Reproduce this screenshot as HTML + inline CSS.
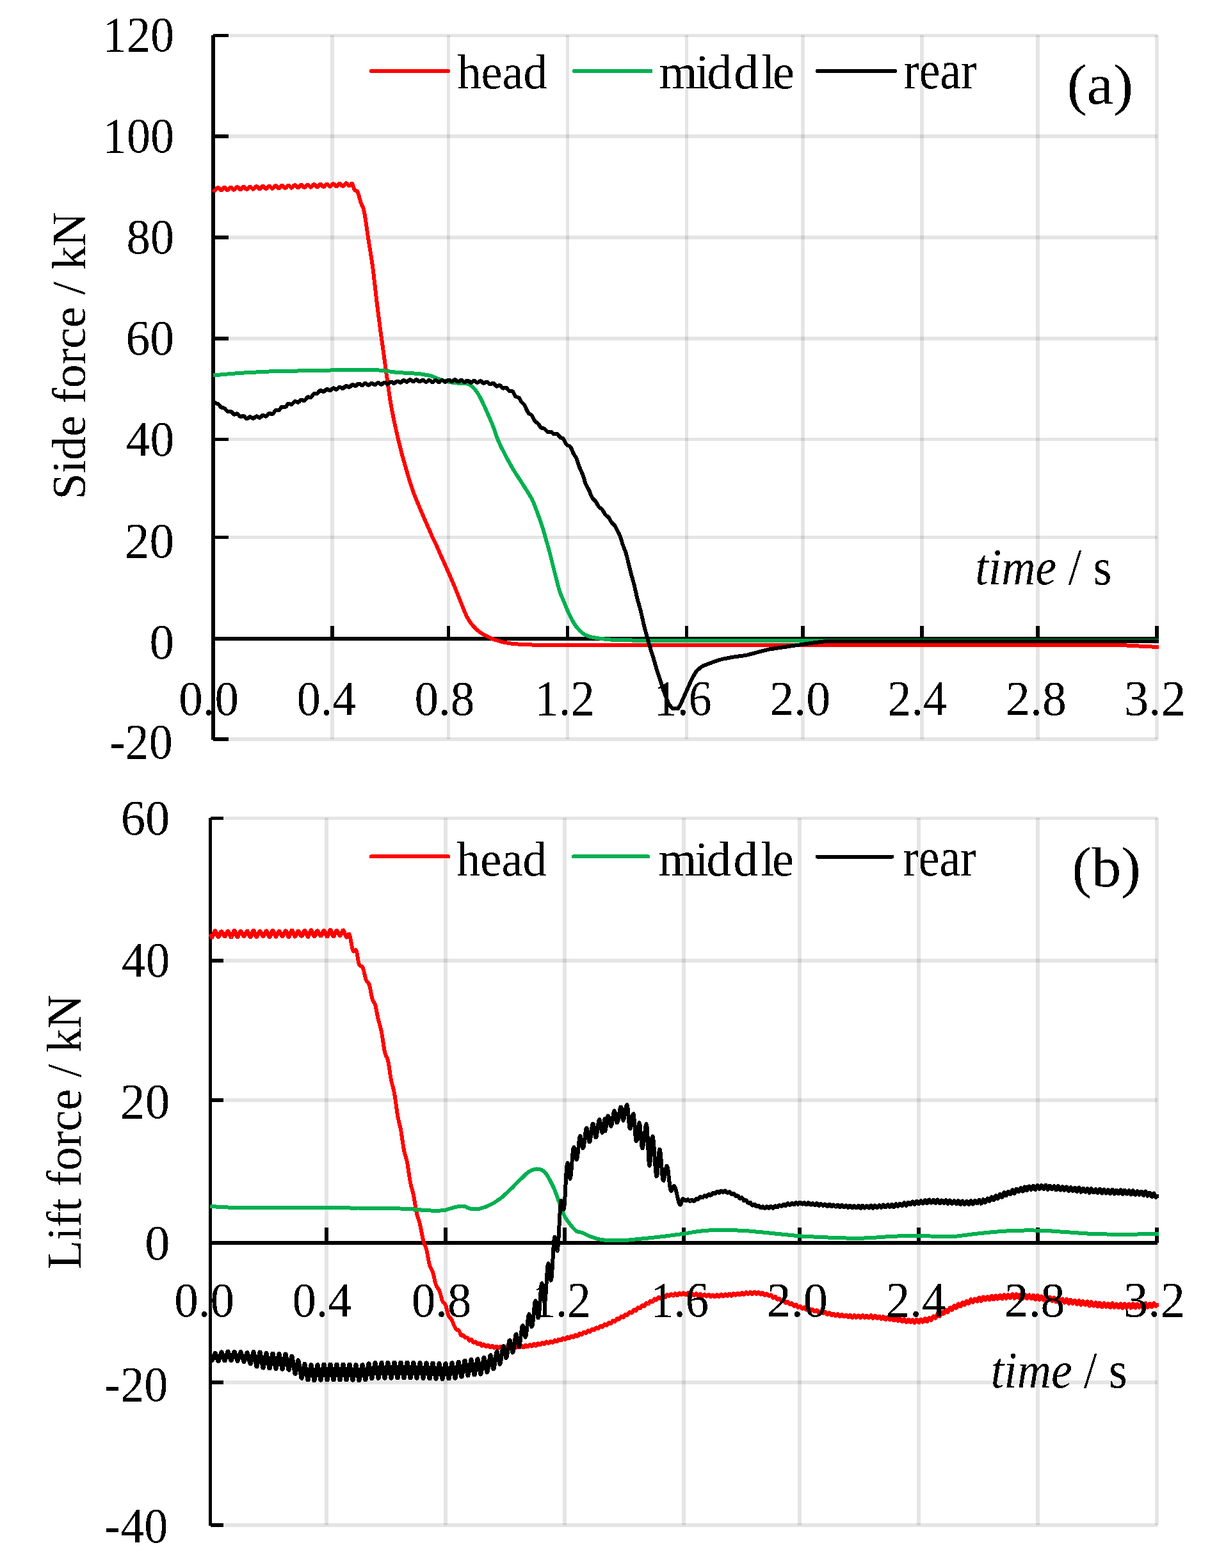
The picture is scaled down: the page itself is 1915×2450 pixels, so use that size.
<!DOCTYPE html>
<html lang="en">
<head>
<meta charset="utf-8">
<title>Side force and lift force time histories</title>
<style>
html,body{margin:0;padding:0;background:#fff;}
body{width:1915px;height:2450px;overflow:hidden;}
svg{display:block;position:absolute;left:0;top:0;}
text{font-family:"Liberation Serif","DejaVu Serif",serif;font-size:100px;fill:#000;white-space:pre;}
rect,path{shape-rendering:crispEdges;}
</style>
</head>
<body>
<svg width="1915" height="2450" viewBox="0 0 1915 2450">
<defs>
<filter id="crisp" filterUnits="userSpaceOnUse" x="0" y="0" width="1915" height="2450" color-interpolation-filters="sRGB">
<feComponentTransfer><feFuncA type="discrete" tableValues="0 1"/></feComponentTransfer>
</filter>
</defs>
<rect x="0" y="0" width="1915" height="2450" fill="#fff"/>
<g class="chart">
<g class="grid">
<rect x="333" y="52.8" width="1475" height="5.5" fill="#e5e5e5"/>
<rect x="333" y="210.2" width="1475" height="5.5" fill="#e5e5e5"/>
<rect x="333" y="368.2" width="1475" height="5.5" fill="#e5e5e5"/>
<rect x="333" y="526.2" width="1475" height="5.5" fill="#e5e5e5"/>
<rect x="333" y="683.8" width="1475" height="5.5" fill="#e5e5e5"/>
<rect x="333" y="836.8" width="1475" height="5.5" fill="#e5e5e5"/>
<rect x="333" y="1152.2" width="1475" height="5.5" fill="#e5e5e5"/>
<rect x="516" y="55" width="6" height="1100" fill="#e5e5e5"/>
<rect x="698" y="55" width="5" height="1100" fill="#e5e5e5"/>
<rect x="884" y="55" width="5" height="1100" fill="#e5e5e5"/>
<rect x="1070" y="55" width="5" height="1100" fill="#e5e5e5"/>
<rect x="1251" y="55" width="6" height="1100" fill="#e5e5e5"/>
<rect x="1437" y="55" width="6" height="1100" fill="#e5e5e5"/>
<rect x="1618" y="55" width="6" height="1100" fill="#e5e5e5"/>
<rect x="1804" y="55" width="6" height="1100" fill="#e5e5e5"/>
<rect x="516" y="55" width="6" height="3.2" fill="#cdcdcd"/>
<rect x="516" y="210.2" width="6" height="5.5" fill="#cdcdcd"/>
<rect x="516" y="368.2" width="6" height="5.5" fill="#cdcdcd"/>
<rect x="516" y="526.2" width="6" height="5.5" fill="#cdcdcd"/>
<rect x="516" y="683.8" width="6" height="5.5" fill="#cdcdcd"/>
<rect x="516" y="836.8" width="6" height="5.5" fill="#cdcdcd"/>
<rect x="516" y="1152.2" width="6" height="2.8" fill="#cdcdcd"/>
<rect x="698" y="55" width="5" height="3.2" fill="#cdcdcd"/>
<rect x="698" y="210.2" width="5" height="5.5" fill="#cdcdcd"/>
<rect x="698" y="368.2" width="5" height="5.5" fill="#cdcdcd"/>
<rect x="698" y="526.2" width="5" height="5.5" fill="#cdcdcd"/>
<rect x="698" y="683.8" width="5" height="5.5" fill="#cdcdcd"/>
<rect x="698" y="836.8" width="5" height="5.5" fill="#cdcdcd"/>
<rect x="698" y="1152.2" width="5" height="2.8" fill="#cdcdcd"/>
<rect x="884" y="55" width="5" height="3.2" fill="#cdcdcd"/>
<rect x="884" y="210.2" width="5" height="5.5" fill="#cdcdcd"/>
<rect x="884" y="368.2" width="5" height="5.5" fill="#cdcdcd"/>
<rect x="884" y="526.2" width="5" height="5.5" fill="#cdcdcd"/>
<rect x="884" y="683.8" width="5" height="5.5" fill="#cdcdcd"/>
<rect x="884" y="836.8" width="5" height="5.5" fill="#cdcdcd"/>
<rect x="884" y="1152.2" width="5" height="2.8" fill="#cdcdcd"/>
<rect x="1070" y="55" width="5" height="3.2" fill="#cdcdcd"/>
<rect x="1070" y="210.2" width="5" height="5.5" fill="#cdcdcd"/>
<rect x="1070" y="368.2" width="5" height="5.5" fill="#cdcdcd"/>
<rect x="1070" y="526.2" width="5" height="5.5" fill="#cdcdcd"/>
<rect x="1070" y="683.8" width="5" height="5.5" fill="#cdcdcd"/>
<rect x="1070" y="836.8" width="5" height="5.5" fill="#cdcdcd"/>
<rect x="1070" y="1152.2" width="5" height="2.8" fill="#cdcdcd"/>
<rect x="1251" y="55" width="6" height="3.2" fill="#cdcdcd"/>
<rect x="1251" y="210.2" width="6" height="5.5" fill="#cdcdcd"/>
<rect x="1251" y="368.2" width="6" height="5.5" fill="#cdcdcd"/>
<rect x="1251" y="526.2" width="6" height="5.5" fill="#cdcdcd"/>
<rect x="1251" y="683.8" width="6" height="5.5" fill="#cdcdcd"/>
<rect x="1251" y="836.8" width="6" height="5.5" fill="#cdcdcd"/>
<rect x="1251" y="1152.2" width="6" height="2.8" fill="#cdcdcd"/>
<rect x="1437" y="55" width="6" height="3.2" fill="#cdcdcd"/>
<rect x="1437" y="210.2" width="6" height="5.5" fill="#cdcdcd"/>
<rect x="1437" y="368.2" width="6" height="5.5" fill="#cdcdcd"/>
<rect x="1437" y="526.2" width="6" height="5.5" fill="#cdcdcd"/>
<rect x="1437" y="683.8" width="6" height="5.5" fill="#cdcdcd"/>
<rect x="1437" y="836.8" width="6" height="5.5" fill="#cdcdcd"/>
<rect x="1437" y="1152.2" width="6" height="2.8" fill="#cdcdcd"/>
<rect x="1618" y="55" width="6" height="3.2" fill="#cdcdcd"/>
<rect x="1618" y="210.2" width="6" height="5.5" fill="#cdcdcd"/>
<rect x="1618" y="368.2" width="6" height="5.5" fill="#cdcdcd"/>
<rect x="1618" y="526.2" width="6" height="5.5" fill="#cdcdcd"/>
<rect x="1618" y="683.8" width="6" height="5.5" fill="#cdcdcd"/>
<rect x="1618" y="836.8" width="6" height="5.5" fill="#cdcdcd"/>
<rect x="1618" y="1152.2" width="6" height="2.8" fill="#cdcdcd"/>
<rect x="1804" y="55" width="4" height="3.2" fill="#cdcdcd"/>
<rect x="1804" y="210.2" width="4" height="5.5" fill="#cdcdcd"/>
<rect x="1804" y="368.2" width="4" height="5.5" fill="#cdcdcd"/>
<rect x="1804" y="526.2" width="4" height="5.5" fill="#cdcdcd"/>
<rect x="1804" y="683.8" width="4" height="5.5" fill="#cdcdcd"/>
<rect x="1804" y="836.8" width="4" height="5.5" fill="#cdcdcd"/>
<rect x="1804" y="1152.2" width="4" height="2.8" fill="#cdcdcd"/>
</g>
<g class="axes" fill="#000">
<rect x="330" y="55" width="6" height="1100.5"/>
<rect x="333" y="995" width="1475" height="6"/>
<rect x="333" y="52.8" width="24" height="5.5"/>
<rect x="333" y="210.2" width="24" height="5.5"/>
<rect x="333" y="368.2" width="24" height="5.5"/>
<rect x="333" y="526.2" width="24" height="5.5"/>
<rect x="333" y="683.8" width="24" height="5.5"/>
<rect x="333" y="836.8" width="24" height="5.5"/>
<rect x="333" y="1152.2" width="24" height="5.5"/>
<rect x="516" y="978" width="6" height="20"/>
<rect x="698" y="978" width="5" height="20"/>
<rect x="884" y="978" width="5" height="20"/>
<rect x="1070" y="978" width="5" height="20"/>
<rect x="1251" y="978" width="6" height="20"/>
<rect x="1437" y="978" width="6" height="20"/>
<rect x="1618" y="978" width="6" height="20"/>
<rect x="1804" y="978" width="6" height="20"/>
</g>
<g class="series" fill="none" stroke-linejoin="round" stroke-linecap="butt">
<path d="M333 295.6L334 296.9L335 297.6L336 297.6L337 296.8L338 295.4L339 294.1L340 293.3L341 293.2L342 294L343 295.3L344 296.5L345 297.3L346 297.3L347 296.4L348 295.1L349 293.8L350 292.9L351 292.9L352 293.7L353 294.9L354 296.2L355 297L356 296.9L357 296.1L358 294.8L359 293.4L360 292.6L361 292.6L362 293.3L363 294.6L364 295.9L365 296.6L366 296.6L367 295.7L368 294.4L369 293.1L370 292.3L371 292.2L372 293L373 294.3L374 295.5L375 296.3L376 296.2L377 295.4L378 294.1L379 292.8L380 291.9L381 291.9L382 292.7L383 293.9L384 295.2L385 295.9L386 295.9L387 295.1L388 293.7L389 292.4L390 291.6L391 291.6L392 292.3L393 293.6L394 294.8L395 295.6L396 295.6L397 294.7L398 293.4L399 292.1L400 291.3L401 291.2L402 292L403 293.2L404 294.5L405 295.3L406 295.2L407 294.4L408 293.1L409 291.7L410 290.9L411 290.9L412 291.6L413 292.9L414 294.2L415 294.9L416 294.9L417 294.1L418 292.7L419 291.4L420 290.6L421 290.5L422 291.3L423 292.6L424 293.8L425 294.6L426 294.6L427 293.7L428 292.4L429 291.1L430 290.2L431 290.2L432 291L433 292.2L434 293.5L435 294.3L436 294.2L437 293.4L438 292.1L439 290.7L440 289.9L441 289.9L442 290.6L443 291.9L444 293.2L445 293.9L446 293.9L447 293.1L448 291.7L449 290.4L450 289.6L451 289.5L452 290.3L453 291.6L454 292.8L455 293.6L456 293.5L457 292.7L458 291.4L459 290.1L460 289.2L461 289.2L462 290L463 291.2L464 292.5L465 293.2L466 293.2L467 292.4L468 291L469 289.7L470 288.9L471 288.8L472 289.6L473 290.9L474 292.1L475 292.9L476 292.9L477 292L478 290.7L479 289.4L480 288.5L481 288.5L482 289.3L483 290.5L484 291.8L485 292.6L486 292.5L487 291.7L488 290.4L489 289L490 288.2L491 288.2L492 288.9L493 290.2L494 291.4L495 292.2L496 292.2L497 291.3L498 290L499 288.7L500 287.9L501 287.8L502 288.6L503 289.8L504 291.1L505 291.9L506 291.8L507 291L508 289.7L509 288.3L510 287.5L511 287.5L512 288.2L513 289.5L514 290.8L515 291.5L516 291.5L517 290.7L518 289.3L519 288L520 287.2L521 287.1L522 287.9L523 289.1L524 290.4L525 291.2L526 291.1L527 290.3L528 288.9L529 287.6L530 286.8L531 286.7L532 287.5L533 288.8L534 290L535 290.8L536 290.7L537 289.9L538 288.6L539 287.2L540 286.4L541 286.3L542 287.1L543 288.4L544 289.6L545 290.4L546 290.3L547 289.5L548 288.3L549 287.1L550 286.9L551 288.6L552 291.7L553 294.8L554 296.8L555 297.9L556 298.3L557 298.3L558 299L559 300.8L560 303.9L561 307.6L562 311.2L563 314.6L564 317.4L565 319.9L566 322L567 324.2L568 327.5L569 331.9L570 337.3L571 343.3L572 350.1L573 357.3L574 364.5L575 371.3L576 377.7L577 383.9L578 390L579 396.1L580 402.5L581 409L582 416L583 423.8L584 432.2L585 441L588 467.2L591 491.6L594 514.7L597 536L600 557.7L603 580.2L606 600.7L609 622.6L612 640L615 654.9L618 668.8L621 682.1L624 694.6L627 706.8L630 717.5L633 728L636 738.4L639 748.6L642 758.4L645 767.4L648 774.9L651 782.3L654 789.7L657 796.8L660 803.9L663 810.9L666 817.6L669 824.3L672 831L675 838.4L678 844.7L681 850.5L684 857.3L687 864.3L690 871L693 877.7L696 884.3L699 891L702 897.9L705 904.8L708 911.8L711 919L714 926.5L717 934L720 941.5L723 948.9L726 956.3L729 963.4L732 968.4L735 973L738 976.7L741 980L744 983.3L747 985.8L750 987.9L753 989.9L756 991.9L759 993.4L762 994.8L765 996.2L768 997.6L771 998.9L774 999.9L777 1000.8L780 1001.7L783 1002.6L786 1003.5L789 1004L792 1004.5L795 1005L798 1005.5L801 1006L804 1006.2L807 1006.4L810 1006.6L813 1006.8L816 1006.9L819 1007.1L822 1007.2L825 1007.3L828 1007.4L831 1007.5L834 1007.5L837 1007.6L840 1007.7L843 1007.7L846 1007.8L849 1007.8L852 1007.8L855 1007.8L858 1007.8L861 1007.8L864 1007.8L867 1007.8L870 1007.8L873 1007.8L876 1007.9L879 1007.9L882 1007.9L885 1007.9L888 1007.9L891 1007.9L894 1007.9L897 1007.9L900 1007.9L903 1007.9L906 1007.9L909 1007.9L912 1007.9L915 1007.9L918 1007.9L921 1007.9L924 1007.9L927 1007.9L930 1007.9L933 1008L936 1008L939 1008L942 1008L945 1008L948 1008L951 1008L954 1008L957 1008L960 1008L963 1008L966 1008L969 1008L972 1008L975 1008L978 1008L981 1008L984 1008L987 1008L990 1008L993 1008L996 1008L999 1008L1002 1008L1005 1008L1008 1008L1011 1008L1014 1008L1017 1008L1020 1008L1023 1008L1026 1008L1029 1008L1032 1008L1035 1008L1038 1008L1041 1008L1044 1008L1047 1008L1050 1008L1053 1008L1056 1008L1059 1008L1062 1008L1065 1008L1068 1008L1071 1008L1074 1008L1077 1008L1080 1008L1083 1008L1086 1008L1089 1008L1092 1008L1095 1008L1098 1008L1101 1008L1104 1008L1107 1008L1110 1008L1113 1008L1116 1008L1119 1008L1122 1008L1125 1008L1128 1008L1131 1008L1134 1008L1137 1008L1140 1008L1143 1008L1146 1008L1149 1008L1152 1008L1155 1008L1158 1008L1161 1008L1164 1008L1167 1008L1170 1008L1173 1008L1176 1008L1179 1008L1182 1008L1185 1008L1188 1008L1191 1008L1194 1008L1197 1008L1200 1008L1203 1008L1206 1008L1209 1008L1212 1008L1215 1008L1218 1008L1221 1008L1224 1008L1227 1008L1230 1008L1233 1008L1236 1008L1239 1008L1242 1008L1245 1008L1248 1008L1251 1008L1254 1008L1257 1008L1260 1008L1263 1008L1266 1008L1269 1008L1272 1008L1275 1008L1278 1008L1281 1008L1284 1008L1287 1008L1290 1008L1293 1008L1296 1008L1299 1008L1302 1008L1305 1008L1308 1008L1311 1008L1314 1008L1317 1008L1320 1008L1323 1008L1326 1008L1329 1008L1332 1008L1335 1008L1338 1008L1341 1008L1344 1008L1347 1008L1350 1008L1353 1008L1356 1008L1359 1008L1362 1008L1365 1008L1368 1008L1371 1008L1374 1008L1377 1008L1380 1008L1383 1008L1386 1008L1389 1008L1392 1008L1395 1008L1398 1008L1401 1008L1404 1008L1407 1008L1410 1008L1413 1008L1416 1008L1419 1008L1422 1008L1425 1008L1428 1008L1431 1008L1434 1008L1437 1008L1440 1008L1443 1008L1446 1008L1449 1008L1452 1008L1455 1008L1458 1008L1461 1008L1464 1008L1467 1008L1470 1008L1473 1008L1476 1008L1479 1008L1482 1008L1485 1008L1488 1008L1491 1008L1494 1008L1497 1008L1500 1008L1503 1008L1506 1008L1509 1008L1512 1008L1515 1008L1518 1008L1521 1008L1524 1008L1527 1008L1530 1008L1533 1008L1536 1008L1539 1008L1542 1008L1545 1008L1548 1008L1551 1008L1554 1008L1557 1008L1560 1008L1563 1008L1566 1008L1569 1008L1572 1008L1575 1008L1578 1008L1581 1008L1584 1008L1587 1008L1590 1008L1593 1008L1596 1008L1599 1008L1602 1008L1605 1008L1608 1008L1611 1008L1614 1008L1617 1008L1620 1008L1623 1008L1626 1008L1629 1008L1632 1008L1635 1008L1638 1008L1641 1008L1644 1008L1647 1008L1650 1008L1653 1008L1656 1008L1659 1008L1662 1008L1665 1008L1668 1008L1671 1008L1674 1008L1677 1008L1680 1008L1683 1008L1686 1008L1689 1008L1692 1008L1695 1008L1698 1008L1701 1008L1704 1008L1707 1008L1710 1008L1713 1008L1716 1008L1719 1008L1722 1008L1725 1008L1728 1008L1731 1008L1734 1008L1737 1008L1740 1008L1743 1008L1746 1008L1749 1008L1752 1008.1L1755 1008.3L1758 1008.4L1761 1008.6L1764 1008.7L1767 1008.9L1770 1009L1773 1009.2L1776 1009.3L1779 1009.5L1782 1009.6L1785 1009.8L1788 1009.9L1791 1010.1L1794 1010.3L1797 1010.4L1800 1010.6L1803 1010.8L1806 1010.9L1809 1011L1810 1011" stroke="#ff0000" stroke-width="6"/>
<path d="M333 586.5L336 586.2L339 586L342 585.7L345 585.4L348 585.2L351 584.9L354 584.6L357 584.4L360 584.1L363 583.8L366 583.6L369 583.3L372 583.1L375 582.8L378 582.6L381 582.5L384 582.3L387 582.2L390 582L393 581.9L396 581.7L399 581.6L402 581.4L405 581.3L408 581.1L411 581L414 580.8L417 580.7L420 580.5L423 580.4L426 580.3L429 580.2L432 580.2L435 580.1L438 580L441 580L444 579.9L447 579.9L450 579.8L453 579.7L456 579.7L459 579.6L462 579.6L465 579.5L468 579.4L471 579.4L474 579.3L477 579.3L480 579.2L483 579.1L486 579.1L489 579L492 578.9L495 578.9L498 578.8L501 578.8L504 578.7L507 578.6L510 578.6L513 578.5L516 578.5L519 578.4L522 578.3L525 578.2L528 578.2L531 578.1L534 578L537 577.9L540 577.9L543 577.8L546 577.7L549 577.6L552 577.6L555 577.5L558 577.5L561 577.5L564 577.5L567 577.5L570 577.5L573 577.5L576 577.5L579 577.5L582 577.5L585 577.8L588 578.1L591 578.4L594 578.7L597 579L600 579.3L603 579.7L606 580.1L609 580.5L612 580.9L615 581.3L618 581.7L621 582L624 582.2L627 582.4L630 582.5L633 582.6L636 582.8L639 583L642 583.2L645 583.4L648 583.6L651 583.9L654 584.1L657 584.4L660 584.8L663 585.4L666 585.9L669 586.4L672 587L675 588L678 589.2L681 590.4L684 591.6L687 592.7L690 593.7L693 594.5L696 595.3L699 596.1L702 596.8L705 597.4L708 598L711 598.4L714 598.5L717 598.6L720 598.7L723 598.8L726 598.9L729 599.3L732 600.2L735 601.9L738 604.3L741 607.4L744 611.3L747 615.6L750 621L753 627L756 633.3L759 640.1L762 646.9L765 653.7L768 660.5L771 668.2L774 677.1L777 685.3L780 692.5L783 698.9L786 704.7L789 710.6L792 716.2L795 721.7L798 727.1L801 732.5L804 737.3L807 741.9L810 746.4L813 751L816 755.7L819 760.5L822 765.2L825 770L828 774.9L831 780L834 786.8L837 794.7L840 802.8L843 811.2L846 819.9L849 829.4L852 839.9L855 850.2L858 861L861 872.9L864 885L867 896.9L870 908.7L873 919.9L876 928.8L879 935.9L882 943L885 950.3L888 957.5L891 963.8L894 969.4L897 974.6L900 978.9L903 982.6L906 985.8L909 988.4L912 990.7L915 992.3L918 993.7L921 994.8L924 995.5L927 996L930 996.6L933 997.1L936 997.5L939 997.9L942 998.3L945 998.7L948 999L951 999.3L954 999.5L957 999.8L960 1000L963 1000.1L966 1000.1L969 1000.2L972 1000.2L975 1000.3L978 1000.3L981 1000.4L984 1000.4L987 1000.5L990 1000.5L993 1000.6L996 1000.6L999 1000.7L1002 1000.7L1005 1000.7L1008 1000.7L1011 1000.7L1014 1000.7L1017 1000.7L1020 1000.7L1023 1000.7L1026 1000.7L1029 1000.7L1032 1000.7L1035 1000.7L1038 1000.7L1041 1000.7L1044 1000.7L1047 1000.7L1050 1000.7L1053 1000.7L1056 1000.7L1059 1000.7L1062 1000.7L1065 1000.7L1068 1000.7L1071 1000.7L1074 1000.7L1077 1000.7L1080 1000.7L1083 1000.7L1086 1000.7L1089 1000.7L1092 1000.7L1095 1000.7L1098 1000.7L1101 1000.7L1104 1000.7L1107 1000.7L1110 1000.7L1113 1000.7L1116 1000.7L1119 1000.7L1122 1000.7L1125 1000.7L1128 1000.7L1131 1000.7L1134 1000.7L1137 1000.7L1140 1000.7L1143 1000.7L1146 1000.7L1149 1000.7L1152 1000.7L1155 1000.7L1158 1000.7L1161 1000.7L1164 1000.7L1167 1000.7L1170 1000.7L1173 1000.7L1176 1000.7L1179 1000.7L1182 1000.7L1185 1000.7L1188 1000.7L1191 1000.7L1194 1000.7L1197 1000.7L1200 1000.7L1203 1000.7L1206 1000.7L1209 1000.7L1212 1000.7L1215 1000.7L1218 1000.7L1221 1000.7L1224 1000.7L1227 1000.7L1230 1000.7L1233 1000.7L1236 1000.7L1239 1000.7L1242 1000.7L1245 1000.7L1248 1000.7L1251 1000.7L1254 1000.7L1257 1000.7L1260 1000.7L1263 1000.7L1266 1000.7L1269 1000.7L1272 1000.6L1275 1000.6L1278 1000.6L1281 1000.6L1284 1000.6L1287 1000.6L1290 1000.5L1293 1000.5L1296 1000.5L1299 1000.5L1302 1000.5L1305 1000.5L1308 1000.5L1311 1000.5L1314 1000.5L1317 1000.5L1320 1000.5L1323 1000.5L1326 1000.5L1329 1000.5L1332 1000.5L1335 1000.5L1338 1000.5L1341 1000.5L1344 1000.5L1347 1000.5L1350 1000.5L1353 1000.5L1356 1000.5L1359 1000.5L1362 1000.5L1365 1000.5L1368 1000.5L1371 1000.5L1374 1000.5L1377 1000.5L1380 1000.5L1383 1000.5L1386 1000.5L1389 1000.5L1392 1000.5L1395 1000.5L1398 1000.5L1401 1000.5L1404 1000.5L1407 1000.5L1410 1000.5L1413 1000.5L1416 1000.5L1419 1000.5L1422 1000.5L1425 1000.5L1428 1000.5L1431 1000.5L1434 1000.5L1437 1000.5L1440 1000.5L1443 1000.5L1446 1000.5L1449 1000.5L1452 1000.5L1455 1000.5L1458 1000.5L1461 1000.5L1464 1000.5L1467 1000.5L1470 1000.5L1473 1000.5L1476 1000.5L1479 1000.5L1482 1000.5L1485 1000.5L1488 1000.5L1491 1000.5L1494 1000.5L1497 1000.5L1500 1000.5L1503 1000.5L1506 1000.5L1509 1000.5L1512 1000.5L1515 1000.5L1518 1000.5L1521 1000.5L1524 1000.5L1527 1000.5L1530 1000.5L1533 1000.5L1536 1000.5L1539 1000.5L1542 1000.5L1545 1000.5L1548 1000.5L1551 1000.5L1554 1000.5L1557 1000.5L1560 1000.5L1563 1000.5L1566 1000.5L1569 1000.5L1572 1000.5L1575 1000.5L1578 1000.5L1581 1000.5L1584 1000.5L1587 1000.5L1590 1000.5L1593 1000.5L1596 1000.5L1599 1000.5L1602 1000.5L1605 1000.5L1608 1000.5L1611 1000.5L1614 1000.5L1617 1000.5L1620 1000.5L1623 1000.5L1626 1000.5L1629 1000.5L1632 1000.5L1635 1000.5L1638 1000.5L1641 1000.5L1644 1000.5L1647 1000.5L1650 1000.5L1653 1000.5L1656 1000.5L1659 1000.5L1662 1000.5L1665 1000.5L1668 1000.5L1671 1000.5L1674 1000.5L1677 1000.5L1680 1000.5L1683 1000.5L1686 1000.5L1689 1000.5L1692 1000.5L1695 1000.5L1698 1000.5L1701 1000.5L1704 1000.5L1707 1000.5L1710 1000.5L1713 1000.5L1716 1000.5L1719 1000.5L1722 1000.5L1725 1000.5L1728 1000.5L1731 1000.5L1734 1000.5L1737 1000.5L1740 1000.5L1743 1000.5L1746 1000.5L1749 1000.5L1752 1000.5L1755 1000.5L1758 1000.5L1761 1000.5L1764 1000.5L1767 1000.5L1770 1000.5L1773 1000.5L1776 1000.5L1779 1000.5L1782 1000.5L1785 1000.5L1788 1000.5L1791 1000.5L1794 1000.5L1797 1000.5L1800 1000.5L1803 1000.5L1806 1000.5L1809 1000.5L1810 1000.5" stroke="#00b050" stroke-width="6"/>
<path d="M333 627L334 628.2L335 629.1L336 629.8L337 630.2L338 630.4L339 630.5L340 630.9L341 631.5L342 632.5L343 633.8L344 635L345 636L346 636.7L347 637.1L348 637.1L349 637.2L350 637.5L351 638.2L352 639.2L353 640.5L354 641.7L355 642.6L356 643.1L357 643.1L358 642.9L359 642.6L360 642.6L361 643.1L362 643.9L363 645.1L364 646.3L365 647.2L366 647.6L367 647.4L368 647L369 646.6L370 646.4L371 646.7L372 647.5L373 648.7L374 649.9L375 650.7L376 651.1L377 650.9L378 650.5L379 650L380 649.8L381 650.2L382 651.1L383 652.4L384 653.6L385 654.3L386 654.4L387 653.8L388 652.8L389 651.9L390 651.3L391 651.3L392 651.8L393 652.6L394 653.4L395 653.9L396 653.8L397 653.2L398 652.2L399 651.2L400 650.5L401 650.4L402 650.9L403 651.6L404 652.4L405 652.8L406 652.6L407 651.9L408 650.8L409 649.7L410 649L411 648.8L412 649.1L413 649.8L414 650.5L415 650.7L416 650.4L417 649.5L418 648.3L419 647.1L420 646.2L421 645.9L422 646.1L423 646.7L424 647.2L425 647.3L426 646.8L427 645.7L428 644.2L429 642.7L430 641.6L431 641L432 640.9L433 641.2L434 641.5L435 641.4L436 640.9L437 639.8L438 638.4L439 637L440 636L441 635.5L442 635.6L443 635.9L444 636.3L445 636.4L446 635.9L447 634.9L448 633.5L449 632.1L450 631.1L451 630.6L452 630.8L453 631.3L454 631.8L455 632L456 631.7L457 630.8L458 629.6L459 628.3L460 627.4L461 627.1L462 627.3L463 627.9L464 628.5L465 628.8L466 628.6L467 627.8L468 626.7L469 625.6L470 624.8L471 624.5L472 624.8L473 625.4L474 626L475 626.1L476 625.6L477 624.5L478 623.2L479 621.8L480 620.8L481 620.3L482 620.3L483 620.7L484 621.1L485 621.1L486 620.5L487 619.4L488 617.9L489 616.4L490 615.3L491 614.7L492 614.7L493 615L494 615.3L495 615.2L496 614.6L497 613.5L498 612.1L499 610.9L500 610.2L501 610L502 610.3L503 611L504 611.7L505 612L506 611.8L507 611.1L508 610L509 608.9L510 608.2L511 608L512 608.4L513 609.1L514 609.8L515 610.2L516 610L517 609.3L518 608.3L519 607.2L520 606.5L521 606.4L522 606.8L523 607.5L524 608.2L525 608.6L526 608.4L527 607.7L528 606.7L529 605.6L530 604.9L531 604.7L532 605.1L533 605.8L534 606.5L535 606.9L536 606.7L537 606L538 604.9L539 603.9L540 603.1L541 603L542 603.3L543 604L544 604.8L545 605.1L546 604.9L547 604.2L548 603.1L549 602L550 601.2L551 601L552 601.4L553 602L554 602.7L555 603L556 602.8L557 602.1L558 601.1L559 600.1L560 599.5L561 599.5L562 600L563 600.8L564 601.6L565 602.1L566 602.1L567 601.5L568 600.6L569 599.7L570 599.1L571 599L572 599.5L573 600.4L574 601.2L575 601.7L576 601.7L577 601.1L578 600.2L579 599.3L580 598.7L581 598.6L582 599.1L583 600L584 600.8L585 601.3L586 601.2L587 600.6L588 599.7L589 598.8L590 598.2L591 598.1L592 598.6L593 599.4L594 600.3L595 600.8L596 600.7L597 600.1L598 599.2L599 598.2L600 597.6L601 597.6L602 598L603 598.8L604 599.6L605 600L606 599.9L607 599.3L608 598.3L609 597.3L610 596.6L611 596.5L612 597L613 597.7L614 598.5L615 599L616 598.8L617 598.2L618 597.2L619 596.2L620 595.6L621 595.5L622 595.9L623 596.7L624 597.4L625 597.9L626 597.7L627 597.1L628 596.1L629 595.1L630 594.4L631 594.3L632 594.7L633 595.5L634 596.3L635 596.7L636 596.6L637 595.9L638 594.9L639 593.9L640 593.3L641 593.3L642 593.8L643 594.7L644 595.6L645 596.1L646 596.1L647 595.6L648 594.7L649 593.9L650 593.3L651 593.4L652 594L653 594.9L654 595.8L655 596.4L656 596.4L657 595.9L658 595.1L659 594.2L660 593.7L661 593.8L662 594.3L663 595.3L664 596.2L665 596.8L666 596.8L667 596.3L668 595.4L669 594.6L670 594.1L671 594.1L672 594.7L673 595.6L674 596.5L675 597L676 597L677 596.5L678 595.6L679 594.7L680 594.2L681 594.2L682 594.7L683 595.6L684 596.5L685 597L686 597L687 596.5L688 595.6L689 594.7L690 594.2L691 594.2L692 594.7L693 595.5L694 596.3L695 596.8L696 596.7L697 596.1L698 595.1L699 594.2L700 593.6L701 593.5L702 594L703 594.8L704 595.6L705 596.1L706 596.1L707 595.4L708 594.5L709 593.7L710 593.2L711 593.3L712 593.9L713 594.9L714 595.8L715 596.4L716 596.5L717 596L718 595.2L719 594.4L720 593.9L721 594L722 594.6L723 595.6L724 596.5L725 597.2L726 597.2L727 596.8L728 595.9L729 595.1L730 594.6L731 594.6L732 595.2L733 596.1L734 597L735 597.6L736 597.6L737 597.1L738 596.2L739 595.4L740 594.9L741 594.9L742 595.5L743 596.4L744 597.3L745 597.9L746 597.9L747 597.4L748 596.6L749 595.8L750 595.3L751 595.4L752 596.1L753 597.1L754 598.1L755 598.7L756 598.8L757 598.4L758 597.7L759 597L760 596.6L761 596.8L762 597.5L763 598.5L764 599.6L765 600.3L766 600.5L767 600.1L768 599.5L769 598.9L770 598.7L771 599L772 599.9L773 601.1L774 602.4L775 603.3L776 603.6L777 603.4L778 602.8L779 602.3L780 602L781 602.3L782 603.1L783 604.3L784 605.5L785 606.3L786 606.6L787 606.4L788 606L789 605.5L790 605.5L791 605.9L792 606.9L793 608.3L794 609.6L795 610.6L796 611.1L797 611L798 610.8L799 610.7L800 611.2L801 612.1L802 613.7L803 615.5L804 617.4L805 618.9L806 619.9L807 620.4L808 620.5L809 620.6L810 621.1L811 622.1L812 623.6L813 625.4L814 627.2L815 628.7L816 629.7L817 630.5L818 631.4L819 632.7L820 634.2L821 636.3L822 638.7L823 641.1L824 643.2L825 644.8L826 646L827 646.7L828 647.2L829 647.7L830 648.4L831 649.6L832 651.3L833 653.3L834 655.4L835 657.1L836 658.5L837 659.4L838 660L839 660.6L840 661.6L841 662.7L842 664.1L843 665.5L844 666.9L845 668L846 668.8L847 669.1L848 669.2L849 669.3L850 669.6L851 670.4L852 671.4L853 672.7L854 673.7L855 674.5L856 674.9L857 675L858 674.8L859 674.6L860 674.6L861 674.9L862 675.6L863 676.5L864 677.4L865 678L866 678.3L867 678.3L868 678L869 677.8L870 677.9L871 678.6L872 679.7L873 681L874 682.2L875 683.3L876 684L877 684.4L878 684.6L879 685L880 686L881 687.5L882 689.3L883 691.3L884 693.3L885 694.8L886 695.7L887 696.2L888 696.5L889 696.8L890 697.4L891 698.2L892 699.8L893 702L894 704.6L895 707L896 709L897 710.7L898 712.2L899 713.7L900 715.6L901 718L902 720.8L903 723.9L904 726.9L905 729.7L906 732.1L907 734.4L908 736.5L909 738.7L910 741.2L911 744L912 747.1L913 750.5L914 753.7L915 756.5L916 758.8L917 760.7L918 762.4L919 764L920 765.9L921 768.1L922 770.7L923 773.4L924 775.8L925 777.7L926 779.1L927 780.1L928 781L929 781.9L930 782.9L931 784.3L932 786.1L933 787.9L934 789.7L935 791.3L936 792.5L937 793.3L938 794L939 794.7L940 795.6L941 796.8L942 798.3L943 800L944 801.8L945 803.3L946 804.6L947 805.5L948 806.2L949 806.9L950 807.9L951 809.1L952 810.7L953 812.4L954 814.2L955 815.7L956 817L957 817.9L958 818.8L959 819.9L960 821.1L961 822.7L962 824.6L963 826.7L964 828.8L965 830.7L966 832.2L967 834.1L968 836.3L969 839.2L970 842.2L971 845.4L972 848.5L973 851.5L974 854.4L975 857.1L976 859.4L977 862.1L978 865.2L979 869L980 873L981 877L982 881.2L983 885.4L984 889.6L985 893.6L986 897.4L987 901.1L988 904.5L989 908L990 911.7L991 915.7L992 920L993 924.5L994 929L995 933.3L996 937.3L997 941.1L998 944.6L999 948.2L1000 951.8L1001 955.7L1002 959.9L1003 964.3L1004 968.8L1005 973.1L1006 977.3L1007 981.3L1008 985.1L1009 988.9L1010 992.6L1011 996.1L1012 999.6L1013 1003.3L1014 1006.9L1015 1010.3L1016 1013.5L1017 1016.5L1018 1019.5L1019 1022.5L1020 1025.8L1021 1029.3L1022 1032.9L1023 1036.6L1024 1040.1L1025 1043.5L1026 1046.7L1027 1049.7L1028 1052.6L1029 1055.6L1030 1058.6L1031 1061.7L1032 1064.9L1033 1068.2L1034 1071.5L1035 1074.6L1036 1077.7L1037 1080.5L1038 1083.2L1039 1085.7L1040 1088.2L1041 1090.8L1042 1093.5L1043 1096.1L1044 1098.4L1045 1100.3L1046 1101.7L1047 1103.1L1048 1104.5L1049 1105.8L1050 1106.7L1053 1107L1056 1107L1059 1107L1062 1102.7L1065 1096.3L1068 1089.5L1071 1082.6L1074 1075.8L1077 1069.1L1080 1062.4L1083 1056.8L1086 1051.5L1089 1047.2L1092 1044.9L1095 1042.5L1098 1040.5L1101 1039.3L1104 1038.2L1107 1037.1L1110 1035.9L1113 1034.8L1116 1033.8L1119 1032.8L1122 1031.8L1125 1030.8L1128 1029.9L1131 1029.3L1134 1028.8L1137 1028.2L1140 1027.6L1143 1027.1L1146 1026.5L1149 1026.1L1152 1025.7L1155 1025.3L1158 1024.9L1161 1024.5L1164 1024.1L1167 1023.5L1170 1022.7L1173 1021.9L1176 1021.1L1179 1020.3L1182 1019.5L1185 1018.7L1188 1017.9L1191 1017.2L1194 1016.4L1197 1015.6L1200 1014.8L1203 1014.3L1206 1013.9L1209 1013.4L1212 1013L1215 1012.5L1218 1012.1L1221 1011.6L1224 1011.2L1227 1010.7L1230 1010.3L1233 1009.8L1236 1009.4L1239 1009L1242 1008.5L1245 1008.1L1248 1007.7L1251 1007.2L1254 1006.8L1257 1006.4L1260 1005.9L1263 1005.5L1266 1005.1L1269 1004.6L1272 1004.3L1275 1003.9L1278 1003.5L1281 1003.2L1284 1002.8L1287 1002.4L1290 1002.1L1293 1001.7L1296 1001.6L1299 1001.6L1302 1001.6L1305 1001.6L1308 1001.6L1311 1001.6L1314 1001.6L1317 1001.6L1320 1001.6L1323 1001.6L1326 1001.6L1329 1001.6L1332 1001.6L1335 1001.6L1338 1001.6L1341 1001.6L1344 1001.6L1347 1001.6L1350 1001.6L1353 1001.6L1356 1001.6L1359 1001.6L1362 1001.6L1365 1001.6L1368 1001.6L1371 1001.6L1374 1001.6L1377 1001.6L1380 1001.6L1383 1001.6L1386 1001.6L1389 1001.6L1392 1001.6L1395 1001.6L1398 1001.6L1401 1001.6L1404 1001.6L1407 1001.6L1410 1001.6L1413 1001.6L1416 1001.6L1419 1001.6L1422 1001.6L1425 1001.6L1428 1001.6L1431 1001.6L1434 1001.6L1437 1001.6L1440 1001.6L1443 1001.6L1446 1001.6L1449 1001.6L1452 1001.6L1455 1001.6L1458 1001.6L1461 1001.6L1464 1001.6L1467 1001.6L1470 1001.6L1473 1001.6L1476 1001.6L1479 1001.6L1482 1001.6L1485 1001.6L1488 1001.6L1491 1001.6L1494 1001.6L1497 1001.6L1500 1001.6L1503 1001.6L1506 1001.6L1509 1001.6L1512 1001.6L1515 1001.6L1518 1001.6L1521 1001.6L1524 1001.6L1527 1001.6L1530 1001.6L1533 1001.6L1536 1001.6L1539 1001.6L1542 1001.6L1545 1001.6L1548 1001.6L1551 1001.7L1554 1001.7L1557 1001.7L1560 1001.7L1563 1001.7L1566 1001.7L1569 1001.7L1572 1001.7L1575 1001.7L1578 1001.7L1581 1001.7L1584 1001.7L1587 1001.7L1590 1001.7L1593 1001.7L1596 1001.7L1599 1001.7L1602 1001.7L1605 1001.7L1608 1001.7L1611 1001.7L1614 1001.7L1617 1001.7L1620 1001.7L1623 1001.7L1626 1001.7L1629 1001.7L1632 1001.7L1635 1001.7L1638 1001.7L1641 1001.7L1644 1001.7L1647 1001.7L1650 1001.7L1653 1001.7L1656 1001.7L1659 1001.7L1662 1001.7L1665 1001.7L1668 1001.7L1671 1001.7L1674 1001.7L1677 1001.7L1680 1001.7L1683 1001.7L1686 1001.7L1689 1001.7L1692 1001.7L1695 1001.7L1698 1001.7L1701 1001.7L1704 1001.7L1707 1001.7L1710 1001.7L1713 1001.7L1716 1001.7L1719 1001.7L1722 1001.7L1725 1001.7L1728 1001.7L1731 1001.7L1734 1001.7L1737 1001.7L1740 1001.7L1743 1001.7L1746 1001.7L1749 1001.7L1752 1001.7L1755 1001.7L1758 1001.7L1761 1001.7L1764 1001.7L1767 1001.7L1770 1001.7L1773 1001.7L1776 1001.7L1779 1001.7L1782 1001.7L1785 1001.7L1788 1001.7L1791 1001.7L1794 1001.7L1797 1001.7L1800 1001.7L1803 1001.7L1806 1001.7L1809 1001.7L1810 1001.7" stroke="#000000" stroke-width="6"/>
</g>
<g class="legend-keys">
<rect x="577.3" y="108" width="125.9" height="6" rx="2.5" fill="#ff0000"/>
<rect x="893.8" y="108" width="125.6" height="6" rx="2.5" fill="#00b050"/>
<rect x="1273.8" y="108" width="127.4" height="6" rx="2.5" fill="#000000"/>
</g>
<g class="labels" filter="url(#crisp)">
<text transform="matrix(0.7416 0 0 0.7733 160.83 80.23)">120</text>
<text transform="matrix(0.7416 0 0 0.7733 160.83 238.03)">100</text>
<text transform="matrix(0.7467 0 0 0.7733 197.41 395.93)">80</text>
<text transform="matrix(0.7563 0 0 0.7733 196.5 554.33)">60</text>
<text transform="matrix(0.7543 0 0 0.7733 196.69 712.33)">40</text>
<text transform="matrix(0.7749 0 0 0.7733 194.71 870.63)">20</text>
<text transform="matrix(0.7714 0 0 0.7733 233.61 1028.53)">0</text>
<text transform="matrix(0.7413 0 0 0.7733 170.91 1185.43)">-20</text>
<text transform="matrix(0.7504 0 0 0.7676 279.3 1117.05)">0.0</text>
<text transform="matrix(0.7414 0 0 0.7676 463.73 1117.05)">0.4</text>
<text transform="matrix(0.7513 0 0 0.7676 647.49 1117.05)">0.8</text>
<text transform="matrix(0.7484 0 0 0.7733 835.26 1117.04)">1.2</text>
<text transform="matrix(0.7195 0 0 0.7733 1021.72 1117.04)">1.6</text>
<text transform="matrix(0.7605 0 0 0.7676 1202.18 1117.05)">2.0</text>
<text transform="matrix(0.7454 0 0 0.7733 1386.15 1117.04)">2.4</text>
<text transform="matrix(0.7588 0 0 0.7676 1571.09 1117.05)">2.8</text>
<text transform="matrix(0.7721 0 0 0.7733 1755.74 1117.04)">3.2</text>
<text transform="matrix(0.7432 0 0 0.7674 714.46 138.23)">head</text>
<text transform="matrix(0.7716 0 0 0.7716 0 138.23)" x="1334.2 1408.13 1431.51 1485.68 1541.35 1564.11">middle</text>
<text transform="matrix(0.7357 0 0 0.8396 1411.23 138.16)">rear</text>
<text transform="matrix(0.9353 0 0 0.8856 1666.39 162.1)">(a)</text>
<text transform="matrix(0.7384 0 0 0.8015 1523.18 912.6)"><tspan font-style="italic">time</tspan> / s</text>
<text transform="matrix(0 -0.7381 0.7427 0 132.76 780.5)">Side force / kN</text>
</g>
</g>
<g class="chart">
<g class="grid">
<rect x="328.5" y="1275.8" width="1479.5" height="5.5" fill="#e5e5e5"/>
<rect x="328.5" y="1498.2" width="1479.5" height="5.5" fill="#e5e5e5"/>
<rect x="328.5" y="1716.2" width="1479.5" height="5.5" fill="#e5e5e5"/>
<rect x="328.5" y="2157.2" width="1479.5" height="5.5" fill="#e5e5e5"/>
<rect x="328.5" y="2380.2" width="1479.5" height="5.5" fill="#e5e5e5"/>
<rect x="507" y="1278" width="6" height="1105" fill="#e5e5e5"/>
<rect x="693" y="1278" width="6" height="1105" fill="#e5e5e5"/>
<rect x="879" y="1278" width="6" height="1105" fill="#e5e5e5"/>
<rect x="1064.7" y="1278" width="6" height="1105" fill="#e5e5e5"/>
<rect x="1246" y="1278" width="6" height="1105" fill="#e5e5e5"/>
<rect x="1432" y="1278" width="6" height="1105" fill="#e5e5e5"/>
<rect x="1618" y="1278" width="6" height="1105" fill="#e5e5e5"/>
<rect x="1804" y="1278" width="6" height="1105" fill="#e5e5e5"/>
<rect x="507" y="1278" width="6" height="3.2" fill="#cdcdcd"/>
<rect x="507" y="1498.2" width="6" height="5.5" fill="#cdcdcd"/>
<rect x="507" y="1716.2" width="6" height="5.5" fill="#cdcdcd"/>
<rect x="507" y="2157.2" width="6" height="5.5" fill="#cdcdcd"/>
<rect x="507" y="2380.2" width="6" height="2.8" fill="#cdcdcd"/>
<rect x="693" y="1278" width="6" height="3.2" fill="#cdcdcd"/>
<rect x="693" y="1498.2" width="6" height="5.5" fill="#cdcdcd"/>
<rect x="693" y="1716.2" width="6" height="5.5" fill="#cdcdcd"/>
<rect x="693" y="2157.2" width="6" height="5.5" fill="#cdcdcd"/>
<rect x="693" y="2380.2" width="6" height="2.8" fill="#cdcdcd"/>
<rect x="879" y="1278" width="6" height="3.2" fill="#cdcdcd"/>
<rect x="879" y="1498.2" width="6" height="5.5" fill="#cdcdcd"/>
<rect x="879" y="1716.2" width="6" height="5.5" fill="#cdcdcd"/>
<rect x="879" y="2157.2" width="6" height="5.5" fill="#cdcdcd"/>
<rect x="879" y="2380.2" width="6" height="2.8" fill="#cdcdcd"/>
<rect x="1064.7" y="1278" width="6" height="3.2" fill="#cdcdcd"/>
<rect x="1064.7" y="1498.2" width="6" height="5.5" fill="#cdcdcd"/>
<rect x="1064.7" y="1716.2" width="6" height="5.5" fill="#cdcdcd"/>
<rect x="1064.7" y="2157.2" width="6" height="5.5" fill="#cdcdcd"/>
<rect x="1064.7" y="2380.2" width="6" height="2.8" fill="#cdcdcd"/>
<rect x="1246" y="1278" width="6" height="3.2" fill="#cdcdcd"/>
<rect x="1246" y="1498.2" width="6" height="5.5" fill="#cdcdcd"/>
<rect x="1246" y="1716.2" width="6" height="5.5" fill="#cdcdcd"/>
<rect x="1246" y="2157.2" width="6" height="5.5" fill="#cdcdcd"/>
<rect x="1246" y="2380.2" width="6" height="2.8" fill="#cdcdcd"/>
<rect x="1432" y="1278" width="6" height="3.2" fill="#cdcdcd"/>
<rect x="1432" y="1498.2" width="6" height="5.5" fill="#cdcdcd"/>
<rect x="1432" y="1716.2" width="6" height="5.5" fill="#cdcdcd"/>
<rect x="1432" y="2157.2" width="6" height="5.5" fill="#cdcdcd"/>
<rect x="1432" y="2380.2" width="6" height="2.8" fill="#cdcdcd"/>
<rect x="1618" y="1278" width="6" height="3.2" fill="#cdcdcd"/>
<rect x="1618" y="1498.2" width="6" height="5.5" fill="#cdcdcd"/>
<rect x="1618" y="1716.2" width="6" height="5.5" fill="#cdcdcd"/>
<rect x="1618" y="2157.2" width="6" height="5.5" fill="#cdcdcd"/>
<rect x="1618" y="2380.2" width="6" height="2.8" fill="#cdcdcd"/>
<rect x="1804" y="1278" width="4" height="3.2" fill="#cdcdcd"/>
<rect x="1804" y="1498.2" width="4" height="5.5" fill="#cdcdcd"/>
<rect x="1804" y="1716.2" width="4" height="5.5" fill="#cdcdcd"/>
<rect x="1804" y="2157.2" width="4" height="5.5" fill="#cdcdcd"/>
<rect x="1804" y="2380.2" width="4" height="2.8" fill="#cdcdcd"/>
</g>
<g class="axes" fill="#000">
<rect x="326" y="1278" width="5" height="1105.5"/>
<rect x="328.5" y="1939" width="1479.5" height="6"/>
<rect x="328.5" y="1275.8" width="20" height="5.5"/>
<rect x="328.5" y="1498.2" width="20" height="5.5"/>
<rect x="328.5" y="1716.2" width="20" height="5.5"/>
<rect x="328.5" y="2157.2" width="20" height="5.5"/>
<rect x="328.5" y="2380.2" width="20" height="5.5"/>
<rect x="507" y="1918" width="6" height="24"/>
<rect x="693" y="1918" width="6" height="24"/>
<rect x="879" y="1918" width="6" height="24"/>
<rect x="1064.7" y="1918" width="6" height="24"/>
<rect x="1246" y="1918" width="6" height="24"/>
<rect x="1432" y="1918" width="6" height="24"/>
<rect x="1618" y="1918" width="6" height="24"/>
<rect x="1804" y="1918" width="6" height="24"/>
</g>
<g class="series" fill="none" stroke-linejoin="round" stroke-linecap="butt">
<path d="M328.5 1459.5L329.5 1462.6L330.5 1464.6L331.5 1464.6L332.5 1462.7L333.5 1459.5L334.5 1456.2L335.5 1454.3L336.5 1454.3L337.5 1456.3L338.5 1459.4L339.5 1462.4L340.5 1464.1L341.5 1464L342.5 1462.2L343.5 1459.4L344.5 1456.8L345.5 1455.3L346.5 1455.4L347.5 1457L348.5 1459.4L349.5 1461.8L350.5 1463.3L351.5 1463.4L352.5 1461.9L353.5 1459.4L354.5 1456.7L355.5 1454.9L356.5 1454.8L357.5 1456.4L358.5 1459.3L359.5 1462.4L360.5 1464.4L361.5 1464.5L362.5 1462.5L363.5 1459.3L364.5 1456.1L365.5 1454.1L366.5 1454.2L367.5 1456.2L368.5 1459.3L369.5 1462.3L370.5 1464L371.5 1463.8L372.5 1462L373.5 1459.3L374.5 1456.7L375.5 1455.2L376.5 1455.2L377.5 1456.8L378.5 1459.2L379.5 1461.6L380.5 1463.2L381.5 1463.2L382.5 1461.7L383.5 1459.2L384.5 1456.5L385.5 1454.7L386.5 1454.6L387.5 1456.3L388.5 1459.2L389.5 1462.2L390.5 1464.2L391.5 1464.3L392.5 1462.4L393.5 1459.1L394.5 1455.9L395.5 1453.9L396.5 1454L397.5 1456L398.5 1459.1L399.5 1462.1L400.5 1463.8L401.5 1463.7L402.5 1461.8L403.5 1459.1L404.5 1456.5L405.5 1455L406.5 1455.1L407.5 1456.6L408.5 1459.1L409.5 1461.5L410.5 1463L411.5 1463.1L412.5 1461.6L413.5 1459L414.5 1456.4L415.5 1454.6L416.5 1454.4L417.5 1456.1L418.5 1459L419.5 1462.1L420.5 1464.1L421.5 1464.1L422.5 1462.2L423.5 1459L424.5 1455.7L425.5 1453.8L426.5 1453.8L427.5 1455.8L428.5 1458.9L429.5 1461.9L430.5 1463.6L431.5 1463.5L432.5 1461.7L433.5 1458.9L434.5 1456.3L435.5 1454.8L436.5 1454.9L437.5 1456.4L438.5 1458.9L439.5 1461.3L440.5 1462.8L441.5 1462.9L442.5 1461.4L443.5 1458.9L444.5 1456.2L445.5 1454.4L446.5 1454.3L447.5 1455.9L448.5 1458.8L449.5 1461.9L450.5 1463.9L451.5 1463.9L452.5 1462L453.5 1458.8L454.5 1455.6L455.5 1453.6L456.5 1453.6L457.5 1455.6L458.5 1458.8L459.5 1461.7L460.5 1463.5L461.5 1463.3L462.5 1461.5L463.5 1458.7L464.5 1456.1L465.5 1454.6L466.5 1454.7L467.5 1456.3L468.5 1458.7L469.5 1461.1L470.5 1462.6L471.5 1462.7L472.5 1461.2L473.5 1458.7L474.5 1456L475.5 1454.2L476.5 1454.1L477.5 1455.7L478.5 1458.6L479.5 1461.7L480.5 1463.7L481.5 1463.8L482.5 1461.8L483.5 1458.6L484.5 1455.4L485.5 1453.4L486.5 1453.4L487.5 1455.5L488.5 1458.6L489.5 1461.6L490.5 1463.3L491.5 1463.1L492.5 1461.3L493.5 1458.5L494.5 1455.9L495.5 1454.4L496.5 1454.5L497.5 1456.1L498.5 1458.5L499.5 1460.9L500.5 1462.4L501.5 1462.5L502.5 1461L503.5 1458.5L504.5 1455.8L505.5 1454L506.5 1453.8L507.5 1455.5L508.5 1458.4L509.5 1461.5L510.5 1463.4L511.5 1463.5L512.5 1461.6L513.5 1458.3L514.5 1455.1L515.5 1453.1L516.5 1453.2L517.5 1455.2L518.5 1458.3L519.5 1461.2L520.5 1463L521.5 1462.8L522.5 1461L523.5 1458.2L524.5 1455.6L525.5 1454.1L526.5 1454.2L527.5 1455.7L528.5 1458.1L529.5 1460.6L530.5 1462.1L531.5 1462.1L532.5 1460.6L533.5 1458.1L534.5 1455.4L535.5 1453.6L536.5 1453.5L537.5 1455.1L538.5 1458L539.5 1461.2L540.5 1463.7L541.5 1464.6L542.5 1463.7L543.5 1461.5L544.5 1459.6L545.5 1459.5L546.5 1462.2L547.5 1467.1L548.5 1472.7L549.5 1478L550.5 1482.3L551.5 1485.5L552.5 1486.6L553.5 1486.2L554.5 1484.8L555.5 1484.1L556.5 1485.2L557.5 1488.9L558.5 1494.8L559.5 1500.9L560.5 1505.5L561.5 1508.1L562.5 1509.2L563.5 1509.5L564.5 1509.6L565.5 1510.2L566.5 1511.7L567.5 1514.4L568.5 1518L569.5 1522.3L570.5 1526.5L571.5 1530.2L572.5 1532.6L573.5 1533.9L574.5 1534.7L575.5 1535.8L576.5 1537.9L577.5 1541.2L578.5 1545.8L579.5 1551.2L580.5 1556.5L581.5 1560.9L582.5 1563.7L583.5 1565.4L584.5 1566.7L585.5 1568.7L586.5 1571.8L587.5 1576.1L588.5 1581.2L589.5 1586.5L590.5 1591.2L591.5 1595.3L592.5 1598.9L593.5 1602.5L594.5 1606.3L595.5 1610.6L596.5 1615.8L597.5 1621.9L598.5 1628.6L599.5 1635.4L600.5 1641.4L601.5 1645.9L602.5 1648.8L603.5 1650.8L604.5 1652.7L605.5 1655.5L606.5 1659.7L607.5 1665.4L608.5 1672.1L609.5 1678.9L610.5 1684.9L611.5 1689.9L612.5 1694L613.5 1697.6L614.5 1701.3L615.5 1705.8L616.5 1711.3L617.5 1717.8L618.5 1725.1L619.5 1732.4L620.5 1739.4L621.5 1745.3L622.5 1750.1L623.5 1754.2L624.5 1758.1L625.5 1762.5L626.5 1767.8L627.5 1774.2L628.5 1781.2L629.5 1788.1L630.5 1794.5L631.5 1799.7L632.5 1803.7L633.5 1806.9L634.5 1810.1L635.5 1814L636.5 1819.1L637.5 1825.4L638.5 1832.3L639.5 1839.1L640.5 1845.1L641.5 1850.1L642.5 1854.2L643.5 1857.7L644.5 1861.3L645.5 1865.6L646.5 1870.6L647.5 1876.3L648.5 1882.3L649.5 1888.2L650.5 1893.6L651.5 1898.1L652.5 1901.7L653.5 1904.7L654.5 1907.6L655.5 1911L656.5 1915.4L657.5 1920.3L658.5 1925.5L659.5 1930.5L660.5 1935.3L661.5 1939.4L662.5 1942.6L663.5 1944.9L664.5 1947.1L665.5 1950L666.5 1953.9L667.5 1959L668.5 1964.5L669.5 1969.9L670.5 1974.5L671.5 1978.1L672.5 1980.7L673.5 1982.6L674.5 1984.4L675.5 1986.5L676.5 1989.6L677.5 1993.5L678.5 1997.9L679.5 2002.2L680.5 2006L681.5 2008.9L682.5 2011L683.5 2012.5L684.5 2013.7L685.5 2015.1L686.5 2017.2L687.5 2020.2L688.5 2023.9L689.5 2027.7L690.5 2031.1L691.5 2033.6L692.5 2035.1L693.5 2035.9L694.5 2036.6L695.5 2038.1L696.5 2040.7L697.5 2044.2L698.5 2048.3L699.5 2052.2L700.5 2055.4L701.5 2057.5L702.5 2058.7L703.5 2059.4L704.5 2060.4L705.5 2062L706.5 2064.1L707.5 2066.6L708.5 2069.2L709.5 2071.4L710.5 2073.5L711.5 2075.4L712.5 2076.9L713.5 2077.8L714.5 2077.9L715.5 2078L716.5 2078.5L717.5 2080.1L718.5 2082.6L719.5 2085.2L720.5 2086.7L721.5 2086.9L722.5 2086.5L723.5 2086.4L724.5 2087.2L725.5 2088.7L726.5 2090L727.5 2090.5L728.5 2090.2L729.5 2089.8L730.5 2090.5L731.5 2092.2L732.5 2094L733.5 2094.7L734.5 2094.1L735.5 2093.2L736.5 2093.2L737.5 2094.6L738.5 2096.5L739.5 2097.7L740.5 2097.7L741.5 2097L742.5 2096.5L743.5 2097.1L744.5 2098.5L745.5 2099.9L746.5 2100.4L747.5 2099.8L748.5 2098.8L749.5 2098.6L750.5 2099.7L751.5 2101.5L752.5 2102.7L753.5 2102.4L754.5 2101.3L755.5 2100.5L756.5 2100.9L757.5 2102.2L758.5 2103.5L759.5 2103.8L760.5 2103.1L761.5 2102.1L762.5 2101.9L763.5 2102.7L764.5 2104.3L765.5 2105.3L766.5 2105L767.5 2103.8L768.5 2102.8L769.5 2103.1L770.5 2104.5L771.5 2105.9L772.5 2106.1L773.5 2105.1L774.5 2104L775.5 2103.6L776.5 2104.4L777.5 2105.7L778.5 2106.5L779.5 2106.2L780.5 2104.9L781.5 2103.9L782.5 2104L783.5 2105.3L784.5 2106.6L785.5 2106.8L786.5 2105.7L787.5 2104.3L788.5 2103.8L789.5 2104.6L790.5 2106L791.5 2106.6L792.5 2106.2L793.5 2105L794.5 2104.1L795.5 2104.2L796.5 2105.2L797.5 2106.3L798.5 2106.5L799.5 2105.4L800.5 2103.9L801.5 2103.3L802.5 2104.1L803.5 2105.5L804.5 2106.3L805.5 2105.7L806.5 2104.3L807.5 2103.2L808.5 2103.4L809.5 2104.4L810.5 2105.4L811.5 2105.5L812.5 2104.5L813.5 2103.2L814.5 2102.6L815.5 2103.2L816.5 2104.5L817.5 2105.3L818.5 2104.7L819.5 2103.1L820.5 2101.9L821.5 2102L822.5 2103.2L823.5 2104.4L824.5 2104.4L825.5 2103.2L826.5 2101.9L827.5 2101.3L828.5 2101.8L829.5 2102.9L830.5 2103.5L831.5 2102.9L832.5 2101.4L833.5 2100.2L834.5 2100.2L835.5 2101.3L836.5 2102.5L837.5 2102.5L838.5 2101.2L839.5 2099.7L840.5 2099L841.5 2099.7L842.5 2100.8L843.5 2101.3L844.5 2100.7L845.5 2099.3L846.5 2098.2L847.5 2098.2L848.5 2099.1L849.5 2100.2L850.5 2100.2L851.5 2098.9L852.5 2097.3L853.5 2096.5L854.5 2097.2L855.5 2098.5L856.5 2099.1L857.5 2098.4L858.5 2096.9L859.5 2095.8L860.5 2095.8L861.5 2096.7L862.5 2097.6L863.5 2097.5L864.5 2096.3L865.5 2094.8L866.5 2094L867.5 2094.6L868.5 2095.8L869.5 2096.4L870.5 2095.6L871.5 2093.9L872.5 2092.6L873.5 2092.6L874.5 2093.6L875.5 2094.5L876.5 2094.4L877.5 2093.2L878.5 2091.7L879.5 2091L880.5 2091.5L881.5 2092.5L882.5 2093L883.5 2092.3L884.5 2090.7L885.5 2089.3L886.5 2089.2L887.5 2090.3L888.5 2091.4L889.5 2091.3L890.5 2089.9L891.5 2088.2L892.5 2087.6L893.5 2088.1L894.5 2089.1L895.5 2089.5L896.5 2088.8L897.5 2087.3L898.5 2086.1L899.5 2085.9L900.5 2086.8L901.5 2087.8L902.5 2087.6L903.5 2086.2L904.5 2084.3L905.5 2083.4L906.5 2084L907.5 2085.1L908.5 2085.5L909.5 2084.6L910.5 2083L911.5 2081.7L912.5 2081.5L913.5 2082.2L914.5 2083L915.5 2082.9L916.5 2081.5L917.5 2079.8L918.5 2078.9L919.5 2079.4L920.5 2080.6L921.5 2081.1L922.5 2080.2L923.5 2078.3L924.5 2076.9L925.5 2076.8L926.5 2077.7L927.5 2078.4L928.5 2078.2L929.5 2076.8L930.5 2075.2L931.5 2074.4L932.5 2074.7L933.5 2075.6L934.5 2076.1L935.5 2075.2L936.5 2073.3L937.5 2071.8L938.5 2071.6L939.5 2072.5L940.5 2073.5L941.5 2073.2L942.5 2071.7L943.5 2070L944.5 2069.2L945.5 2069.5L946.5 2070.4L947.5 2070.7L948.5 2069.9L949.5 2068.2L950.5 2066.8L951.5 2066.5L952.5 2067.4L953.5 2068.3L954.5 2068.1L955.5 2066.4L956.5 2064.4L957.5 2063.4L958.5 2063.8L959.5 2064.7L960.5 2064.9L961.5 2063.9L962.5 2062.1L963.5 2060.7L964.5 2060.3L965.5 2060.9L966.5 2061.6L967.5 2061.3L968.5 2059.8L969.5 2057.8L970.5 2056.7L971.5 2057.1L972.5 2058.1L973.5 2058.5L974.5 2057.4L975.5 2055.4L976.5 2053.9L977.5 2053.6L978.5 2054.3L979.5 2054.9L980.5 2054.5L981.5 2053L982.5 2051.3L983.5 2050.2L984.5 2050.4L985.5 2051.3L986.5 2051.6L987.5 2050.6L988.5 2048.5L989.5 2046.8L990.5 2046.5L991.5 2047.3L992.5 2048.1L993.5 2047.7L994.5 2046L995.5 2044.2L996.5 2043.3L997.5 2043.4L998.5 2044.2L999.5 2044.4L1000.5 2043.4L1001.5 2041.5L1002.5 2039.9L1003.5 2039.5L1004.5 2040.3L1005.5 2041.1L1006.5 2040.8L1007.5 2039.1L1008.5 2037.1L1009.5 2036.1L1010.5 2036.4L1011.5 2037.3L1012.5 2037.5L1013.5 2036.5L1014.5 2034.8L1015.5 2033.3L1016.5 2033L1017.5 2033.6L1018.5 2034.3L1019.5 2034.1L1020.5 2032.5L1021.5 2030.5L1022.5 2029.4L1023.5 2029.8L1024.5 2030.8L1025.5 2031.2L1026.5 2030.2L1027.5 2028.4L1028.5 2027.1L1029.5 2027L1030.5 2027.9L1031.5 2028.7L1032.5 2028.6L1033.5 2027.4L1034.5 2025.8L1035.5 2025L1036.5 2025.5L1037.5 2026.7L1038.5 2027.3L1039.5 2026.5L1040.5 2024.7L1041.5 2023.2L1042.5 2023.2L1043.5 2024.3L1044.5 2025.2L1045.5 2025.1L1046.5 2023.9L1047.5 2022.6L1048.5 2022L1049.5 2022.6L1050.5 2023.8L1051.5 2024.5L1052.5 2024L1053.5 2022.5L1054.5 2021.2L1055.5 2021.3L1056.5 2022.6L1057.5 2023.9L1058.5 2024L1059.5 2022.7L1060.5 2021.1L1061.5 2020.5L1062.5 2021.3L1063.5 2022.5L1064.5 2023.1L1065.5 2022.6L1066.5 2021.2L1067.5 2020.2L1068.5 2020.4L1069.5 2021.7L1070.5 2023.1L1071.5 2023.4L1072.5 2022.3L1073.5 2020.8L1074.5 2020.3L1075.5 2021.3L1076.5 2022.9L1077.5 2023.8L1078.5 2023.3L1079.5 2022L1080.5 2021.1L1081.5 2021.4L1082.5 2022.6L1083.5 2023.8L1084.5 2024L1085.5 2023.1L1086.5 2021.8L1087.5 2021.3L1088.5 2022.2L1089.5 2023.9L1090.5 2024.9L1091.5 2024.4L1092.5 2022.9L1093.5 2021.8L1094.5 2022.1L1095.5 2023.5L1096.5 2024.8L1097.5 2025L1098.5 2024.1L1099.5 2022.9L1100.5 2022.5L1101.5 2023.3L1102.5 2024.7L1103.5 2025.6L1104.5 2025.2L1105.5 2023.9L1106.5 2022.7L1107.5 2023L1108.5 2024.5L1109.5 2026L1110.5 2026.2L1111.5 2025.1L1112.5 2023.7L1113.5 2023.4L1114.5 2024.3L1115.5 2025.6L1116.5 2026.3L1117.5 2025.8L1118.5 2024.4L1119.5 2023.3L1120.5 2023.4L1121.5 2024.6L1122.5 2025.9L1123.5 2026L1124.5 2024.8L1125.5 2023.1L1126.5 2022.5L1127.5 2023.3L1128.5 2024.8L1129.5 2025.5L1130.5 2024.9L1131.5 2023.5L1132.5 2022.4L1133.5 2022.5L1134.5 2023.6L1135.5 2024.7L1136.5 2024.8L1137.5 2023.7L1138.5 2022.2L1139.5 2021.6L1140.5 2022.4L1141.5 2023.9L1142.5 2024.7L1143.5 2024L1144.5 2022.4L1145.5 2021.2L1146.5 2021.3L1147.5 2022.5L1148.5 2023.6L1149.5 2023.6L1150.5 2022.6L1151.5 2021.2L1152.5 2020.6L1153.5 2021.2L1154.5 2022.6L1155.5 2023.4L1156.5 2022.8L1157.5 2021.1L1158.5 2019.8L1159.5 2019.9L1160.5 2021.3L1161.5 2022.6L1162.5 2022.6L1163.5 2021.4L1164.5 2019.9L1165.5 2019.3L1166.5 2020L1167.5 2021.2L1168.5 2021.9L1169.5 2021.4L1170.5 2020L1171.5 2018.9L1172.5 2019.1L1173.5 2020.4L1174.5 2021.8L1175.5 2022L1176.5 2020.8L1177.5 2019.3L1178.5 2018.7L1179.5 2019.6L1180.5 2021.1L1181.5 2021.9L1182.5 2021.4L1183.5 2020.1L1184.5 2019.1L1185.5 2019.3L1186.5 2020.6L1187.5 2022L1188.5 2022.5L1189.5 2021.6L1190.5 2020.3L1191.5 2019.9L1192.5 2021L1193.5 2022.8L1194.5 2023.9L1195.5 2023.5L1196.5 2022.2L1197.5 2021.4L1198.5 2021.8L1199.5 2023.2L1200.5 2024.6L1201.5 2025L1202.5 2024.4L1203.5 2023.5L1204.5 2023.4L1205.5 2024.6L1206.5 2026.5L1207.5 2027.8L1208.5 2027.7L1209.5 2026.6L1210.5 2025.8L1211.5 2026.4L1212.5 2028.3L1213.5 2030.1L1214.5 2030.6L1215.5 2030L1216.5 2029.1L1217.5 2029L1218.5 2030.2L1219.5 2032L1220.5 2033.2L1221.5 2033.2L1222.5 2032.2L1223.5 2031.5L1224.5 2032L1225.5 2033.8L1226.5 2035.6L1227.5 2036.1L1228.5 2035.2L1229.5 2034.1L1230.5 2033.9L1231.5 2035.2L1232.5 2037L1233.5 2038.1L1234.5 2037.9L1235.5 2037L1236.5 2036.3L1237.5 2036.8L1238.5 2038.4L1239.5 2040.1L1240.5 2040.7L1241.5 2039.9L1242.5 2038.7L1243.5 2038.4L1244.5 2039.7L1245.5 2041.7L1246.5 2042.9L1247.5 2042.7L1248.5 2041.6L1249.5 2040.9L1250.5 2041.4L1251.5 2042.9L1252.5 2044.3L1253.5 2044.7L1254.5 2043.9L1255.5 2042.8L1256.5 2042.5L1257.5 2043.5L1258.5 2045.3L1259.5 2046.5L1260.5 2046.2L1261.5 2044.8L1262.5 2043.9L1263.5 2044.3L1264.5 2046L1265.5 2047.5L1266.5 2047.9L1267.5 2047.1L1268.5 2046L1269.5 2045.8L1270.5 2046.8L1271.5 2048.4L1272.5 2049.4L1273.5 2049.2L1274.5 2048L1275.5 2047L1276.5 2047.4L1277.5 2049.1L1278.5 2050.8L1279.5 2051.2L1280.5 2050.1L1281.5 2048.8L1282.5 2048.6L1283.5 2049.6L1284.5 2051.2L1285.5 2052.2L1286.5 2051.9L1287.5 2050.8L1288.5 2050L1289.5 2050.3L1290.5 2051.8L1291.5 2053.4L1292.5 2053.8L1293.5 2052.8L1294.5 2051.4L1295.5 2051.1L1296.5 2052.2L1297.5 2054.1L1298.5 2055.1L1299.5 2054.7L1300.5 2053.5L1301.5 2052.7L1302.5 2053.1L1303.5 2054.5L1304.5 2055.8L1305.5 2056.2L1306.5 2055.2L1307.5 2053.8L1308.5 2053.3L1309.5 2054.3L1310.5 2056L1311.5 2057.1L1312.5 2056.6L1313.5 2055L1314.5 2053.8L1315.5 2054.2L1316.5 2055.7L1317.5 2057.1L1318.5 2057.4L1319.5 2056.3L1320.5 2055L1321.5 2054.6L1322.5 2055.5L1323.5 2057.1L1324.5 2058.2L1325.5 2057.7L1326.5 2056.1L1327.5 2054.9L1328.5 2055.1L1329.5 2056.9L1330.5 2058.6L1331.5 2058.8L1332.5 2057.5L1333.5 2055.8L1334.5 2055.3L1335.5 2056.3L1336.5 2057.8L1337.5 2058.7L1338.5 2058.2L1339.5 2056.7L1340.5 2055.4L1341.5 2055.6L1342.5 2057.1L1343.5 2058.8L1344.5 2059.1L1345.5 2057.7L1346.5 2055.8L1347.5 2055.1L1348.5 2056.2L1349.5 2058.1L1350.5 2059.1L1351.5 2058.4L1352.5 2056.8L1353.5 2055.6L1354.5 2055.8L1355.5 2057.3L1356.5 2058.8L1357.5 2059L1358.5 2057.8L1359.5 2055.9L1360.5 2055.2L1361.5 2056.4L1362.5 2058.5L1363.5 2059.8L1364.5 2059.1L1365.5 2057.3L1366.5 2055.9L1367.5 2056.3L1368.5 2058.1L1369.5 2059.7L1370.5 2060L1371.5 2058.8L1372.5 2057.3L1373.5 2056.7L1374.5 2057.8L1375.5 2059.8L1376.5 2061.1L1377.5 2060.5L1378.5 2058.6L1379.5 2057.1L1380.5 2057.4L1381.5 2059.4L1382.5 2061.4L1383.5 2061.7L1384.5 2060.3L1385.5 2058.5L1386.5 2058L1387.5 2059.2L1388.5 2061.1L1389.5 2062.2L1390.5 2061.7L1391.5 2060L1392.5 2058.6L1393.5 2058.9L1394.5 2060.8L1395.5 2062.9L1396.5 2063.4L1397.5 2061.8L1398.5 2059.8L1399.5 2059.2L1400.5 2060.6L1401.5 2062.8L1402.5 2064L1403.5 2063.4L1404.5 2061.7L1405.5 2060.5L1406.5 2060.8L1407.5 2062.6L1408.5 2064.5L1409.5 2065L1410.5 2063.6L1411.5 2061.5L1412.5 2060.8L1413.5 2062.3L1414.5 2064.8L1415.5 2066.2L1416.5 2065.4L1417.5 2063.3L1418.5 2061.7L1419.5 2062.1L1420.5 2063.9L1421.5 2065.7L1422.5 2065.9L1423.5 2064.5L1424.5 2062.6L1425.5 2061.8L1426.5 2063L1427.5 2065.2L1428.5 2066.7L1429.5 2065.9L1430.5 2063.5L1431.5 2061.7L1432.5 2062.1L1433.5 2064.2L1434.5 2066.3L1435.5 2066.5L1436.5 2064.7L1437.5 2062.5L1438.5 2061.6L1439.5 2062.6L1440.5 2064.5L1441.5 2065.6L1442.5 2064.7L1443.5 2062.4L1444.5 2060.4L1445.5 2060.5L1446.5 2062.5L1447.5 2064.6L1448.5 2064.8L1449.5 2062.7L1450.5 2060.1L1451.5 2059.1L1452.5 2060.2L1453.5 2062.1L1454.5 2062.8L1455.5 2061.5L1456.5 2058.9L1457.5 2056.8L1458.5 2056.5L1459.5 2058L1460.5 2059.6L1461.5 2059.5L1462.5 2057.1L1463.5 2054.1L1464.5 2052.6L1465.5 2053.6L1466.5 2055.8L1467.5 2056.7L1468.5 2055.2L1469.5 2052.3L1470.5 2050.2L1471.5 2050L1472.5 2051.5L1473.5 2052.9L1474.5 2052.7L1475.5 2050.6L1476.5 2047.8L1477.5 2046.4L1478.5 2047.2L1479.5 2049.3L1480.5 2050.4L1481.5 2049L1482.5 2045.8L1483.5 2043.3L1484.5 2043.2L1485.5 2045L1486.5 2046.7L1487.5 2046.4L1488.5 2044.1L1489.5 2041.4L1490.5 2040.2L1491.5 2040.9L1492.5 2042.8L1493.5 2043.8L1494.5 2042.7L1495.5 2039.8L1496.5 2037.4L1497.5 2037.3L1498.5 2039.4L1499.5 2041.5L1500.5 2041.4L1501.5 2038.9L1502.5 2036L1503.5 2034.8L1504.5 2035.9L1505.5 2037.9L1506.5 2038.8L1507.5 2037.6L1508.5 2035L1509.5 2032.8L1510.5 2032.7L1511.5 2034.5L1512.5 2036.5L1513.5 2036.6L1514.5 2034.2L1515.5 2031.1L1516.5 2029.9L1517.5 2031.4L1518.5 2034L1519.5 2035.2L1520.5 2034L1521.5 2031.4L1522.5 2029.4L1523.5 2029.6L1524.5 2031.4L1525.5 2033.3L1526.5 2033.5L1527.5 2031.5L1528.5 2028.8L1529.5 2027.5L1530.5 2028.8L1531.5 2031.5L1532.5 2033L1533.5 2031.8L1534.5 2028.7L1535.5 2026.5L1536.5 2026.7L1537.5 2029L1538.5 2031.1L1539.5 2031.2L1540.5 2029.3L1541.5 2026.9L1542.5 2025.9L1543.5 2027.1L1544.5 2029.6L1545.5 2031.1L1546.5 2030.1L1547.5 2027.3L1548.5 2024.9L1549.5 2025.2L1550.5 2027.7L1551.5 2030.3L1552.5 2030.5L1553.5 2028.2L1554.5 2025.5L1555.5 2024.5L1556.5 2025.9L1557.5 2028.3L1558.5 2029.6L1559.5 2028.7L1560.5 2026.2L1561.5 2024L1562.5 2024.1L1563.5 2026.5L1564.5 2029.1L1565.5 2029.5L1566.5 2027.1L1567.5 2024L1568.5 2022.9L1569.5 2024.6L1570.5 2027.5L1571.5 2028.9L1572.5 2027.8L1573.5 2025.2L1574.5 2023.3L1575.5 2023.5L1576.5 2025.7L1577.5 2028L1578.5 2028.3L1579.5 2026.2L1580.5 2023.3L1581.5 2022.1L1582.5 2023.7L1583.5 2026.8L1584.5 2028.6L1585.5 2027.3L1586.5 2024.3L1587.5 2022.1L1588.5 2022.6L1589.5 2025.1L1590.5 2027.5L1591.5 2027.8L1592.5 2026L1593.5 2023.5L1594.5 2022.5L1595.5 2024.1L1596.5 2027L1597.5 2028.9L1598.5 2027.9L1599.5 2024.9L1600.5 2022.5L1601.5 2023L1602.5 2025.9L1603.5 2028.7L1604.5 2029L1605.5 2026.9L1606.5 2024.2L1607.5 2023.4L1608.5 2025L1609.5 2027.7L1610.5 2029.3L1611.5 2028.5L1612.5 2025.9L1613.5 2023.8L1614.5 2024.1L1615.5 2027L1616.5 2029.9L1617.5 2030.5L1618.5 2028.1L1619.5 2025.1L1620.5 2024.2L1621.5 2026.1L1622.5 2029.1L1623.5 2030.7L1624.5 2029.8L1625.5 2027.3L1626.5 2025.5L1627.5 2025.9L1628.5 2028.3L1629.5 2030.9L1630.5 2031.5L1631.5 2029.4L1632.5 2026.5L1633.5 2025.4L1634.5 2027.3L1635.5 2030.7L1636.5 2032.6L1637.5 2031.5L1638.5 2028.7L1639.5 2026.7L1640.5 2027.3L1641.5 2029.9L1642.5 2032.3L1643.5 2032.8L1644.5 2031L1645.5 2028.5L1646.5 2027.5L1647.5 2029.2L1648.5 2032.3L1649.5 2034.3L1650.5 2033.4L1651.5 2030.4L1652.5 2028.1L1653.5 2028.7L1654.5 2031.6L1655.5 2034.4L1656.5 2034.7L1657.5 2032.7L1658.5 2030.3L1659.5 2029.5L1660.5 2031.1L1661.5 2033.9L1662.5 2035.6L1663.5 2034.8L1664.5 2032.2L1665.5 2029.9L1666.5 2030.3L1667.5 2033.3L1668.5 2036.3L1669.5 2036.7L1670.5 2034.4L1671.5 2031.5L1672.5 2030.7L1673.5 2032.5L1674.5 2035.4L1675.5 2037L1676.5 2036.2L1677.5 2033.7L1678.5 2031.8L1679.5 2032.2L1680.5 2034.7L1681.5 2037.5L1682.5 2038.1L1683.5 2035.9L1684.5 2032.9L1685.5 2031.8L1686.5 2033.8L1687.5 2037.1L1688.5 2038.9L1689.5 2037.9L1690.5 2035.2L1691.5 2033.3L1692.5 2033.8L1693.5 2036.2L1694.5 2038.6L1695.5 2039.1L1696.5 2037.2L1697.5 2034.6L1698.5 2033.6L1699.5 2035.3L1700.5 2038.5L1701.5 2040.5L1702.5 2039.5L1703.5 2036.5L1704.5 2034.2L1705.5 2034.8L1706.5 2037.6L1707.5 2040.2L1708.5 2040.6L1709.5 2038.6L1710.5 2036.2L1711.5 2035.3L1712.5 2036.9L1713.5 2039.7L1714.5 2041.5L1715.5 2040.7L1716.5 2037.9L1717.5 2035.6L1718.5 2036L1719.5 2039L1720.5 2041.9L1721.5 2042.3L1722.5 2039.9L1723.5 2037.1L1724.5 2036.2L1725.5 2037.9L1726.5 2040.7L1727.5 2042.2L1728.5 2041.3L1729.5 2038.8L1730.5 2036.8L1731.5 2037.1L1732.5 2039.6L1733.5 2042.4L1734.5 2042.9L1735.5 2040.6L1736.5 2037.5L1737.5 2036.4L1738.5 2038.4L1739.5 2041.5L1740.5 2043.2L1741.5 2042.1L1742.5 2039.4L1743.5 2037.5L1744.5 2037.9L1745.5 2040.3L1746.5 2042.7L1747.5 2043.1L1748.5 2041.1L1749.5 2038.3L1750.5 2037.1L1751.5 2038.8L1752.5 2042L1753.5 2043.9L1754.5 2042.7L1755.5 2039.6L1756.5 2037.3L1757.5 2037.8L1758.5 2040.4L1759.5 2042.8L1760.5 2043.1L1761.5 2041.1L1762.5 2038.5L1763.5 2037.6L1764.5 2039L1765.5 2041.8L1766.5 2043.6L1767.5 2042.6L1768.5 2039.6L1769.5 2037.1L1770.5 2037.5L1771.5 2040.4L1772.5 2043.2L1773.5 2043.5L1774.5 2041.2L1775.5 2038.4L1776.5 2037.5L1777.5 2039L1778.5 2041.6L1779.5 2043L1780.5 2042.1L1781.5 2039.4L1782.5 2037.2L1783.5 2037.4L1784.5 2040L1785.5 2042.8L1786.5 2043.2L1787.5 2040.7L1788.5 2037.5L1789.5 2036.4L1790.5 2038.2L1791.5 2041.2L1792.5 2042.7L1793.5 2041.5L1794.5 2038.9L1795.5 2036.9L1796.5 2037.2L1797.5 2039.4L1798.5 2041.8L1799.5 2042.2L1800.5 2040.1L1801.5 2037L1802.5 2035.8L1803.5 2037.5L1804.5 2040.5L1805.5 2041.2L1806.5 2039.9L1807.5 2038.9L1810 2039" stroke="#ff0000" stroke-width="6"/>
<path d="M328.4 1885L331.4 1885.2L334.4 1885.3L337.4 1885.5L340.4 1885.7L343.4 1885.8L346.4 1886L349.4 1886.2L352.4 1886.3L355.4 1886.5L358.4 1886.6L361.4 1886.6L364.4 1886.7L367.4 1886.7L370.4 1886.7L373.4 1886.7L376.4 1886.8L379.4 1886.8L382.4 1886.8L385.4 1886.8L388.4 1886.8L391.4 1886.9L394.4 1886.9L397.4 1886.9L400.4 1886.9L403.4 1887L406.4 1887L409.4 1887L412.4 1887L415.4 1887.1L418.4 1887.1L421.4 1887.1L424.4 1887.1L427.4 1887.2L430.4 1887.2L433.4 1887.2L436.4 1887.2L439.4 1887.2L442.4 1887.2L445.4 1887.2L448.4 1887.2L451.4 1887.2L454.4 1887.2L457.4 1887.2L460.4 1887.2L463.4 1887.2L466.4 1887.2L469.4 1887.2L472.4 1887.2L475.4 1887.2L478.4 1887.2L481.4 1887.2L484.4 1887.2L487.4 1887.2L490.4 1887.2L493.4 1887.2L496.4 1887.2L499.4 1887.2L502.4 1887.2L505.4 1887.2L508.4 1887.2L511.4 1887.2L514.4 1887.2L517.4 1887.3L520.4 1887.3L523.4 1887.3L526.4 1887.3L529.4 1887.3L532.4 1887.4L535.4 1887.4L538.4 1887.4L541.4 1887.4L544.4 1887.4L547.4 1887.5L550.4 1887.5L553.4 1887.5L556.4 1887.5L559.4 1887.5L562.4 1887.6L565.4 1887.6L568.4 1887.6L571.4 1887.6L574.4 1887.6L577.4 1887.7L580.4 1887.7L583.4 1887.7L586.4 1887.7L589.4 1887.8L592.4 1887.8L595.4 1887.8L598.4 1887.9L601.4 1887.9L604.4 1887.9L607.4 1888L610.4 1888L613.4 1888.1L616.4 1888.2L619.4 1888.3L622.4 1888.4L625.4 1888.5L628.4 1888.6L631.4 1888.7L634.4 1888.8L637.4 1888.9L640.4 1889.1L643.4 1889.3L646.4 1889.6L649.4 1889.8L652.4 1890.1L655.4 1890.3L658.4 1890.6L661.4 1890.9L664.4 1891.1L667.4 1891.2L670.4 1891.4L673.4 1891.5L676.4 1891.7L679.4 1891.9L682.4 1891.9L685.4 1891.7L688.4 1891.5L691.4 1891.3L694.4 1891L697.4 1890.2L700.4 1889.3L703.4 1888.4L706.4 1887.4L709.4 1886.5L712.4 1885.8L715.4 1885.2L718.4 1884.6L721.4 1884.5L724.4 1884.6L727.4 1885.5L730.4 1887.2L733.4 1888.4L736.4 1888.7L739.4 1888.9L742.4 1888.9L745.4 1888.8L748.4 1888.7L751.4 1888L754.4 1887L757.4 1886.1L760.4 1885L763.4 1883.6L766.4 1882.2L769.4 1880.7L772.4 1879L775.4 1876.9L778.4 1874.8L781.4 1872.6L784.4 1870.4L787.4 1867.7L790.4 1864.9L793.4 1862.1L796.4 1859.3L799.4 1856.4L802.4 1853.4L805.4 1850.3L808.4 1847.3L811.4 1844.3L814.4 1841.4L817.4 1838.4L820.4 1835.5L823.4 1832.9L826.4 1830.8L829.4 1828.9L832.4 1827.7L835.4 1826.9L838.4 1826.5L841.4 1826.8L844.4 1827.3L847.4 1828.8L850.4 1831L853.4 1834.6L856.4 1839.4L859.4 1844.7L862.4 1850.6L865.4 1856.9L868.4 1864.7L871.4 1873L874.4 1881.2L877.4 1889.5L880.4 1897.2L883.4 1903.1L886.4 1907.7L889.4 1911.6L892.4 1915.4L895.4 1918.8L898.4 1922.1L901.4 1924.2L904.4 1924.9L907.4 1925.6L910.4 1926.5L913.4 1928L916.4 1929.4L919.4 1930.9L922.4 1932.1L925.4 1933.1L928.4 1934.2L931.4 1935.2L934.4 1936L937.4 1936.6L940.4 1937L943.4 1937.5L946.4 1937.9L949.4 1938.1L952.4 1938.2L955.4 1938.3L958.4 1938.4L961.4 1938.5L964.4 1938.4L967.4 1938.3L970.4 1938.1L973.4 1938L976.4 1937.9L979.4 1937.7L982.4 1937.5L985.4 1937.2L988.4 1936.9L991.4 1936.6L994.4 1936.3L997.4 1936L1000.4 1935.7L1003.4 1935.4L1006.4 1935.1L1009.4 1934.8L1012.4 1934.5L1015.4 1934.2L1018.4 1933.9L1021.4 1933.6L1024.4 1933.3L1027.4 1933L1030.4 1932.6L1033.4 1932.2L1036.4 1931.8L1039.4 1931.5L1042.4 1931.1L1045.4 1930.7L1048.4 1930.3L1051.4 1929.9L1054.4 1929.5L1057.4 1929.1L1060.4 1928.8L1063.4 1928.4L1066.4 1928L1069.4 1927.5L1072.4 1927L1075.4 1926.5L1078.4 1925.9L1081.4 1925.4L1084.4 1924.9L1087.4 1924.5L1090.4 1924.2L1093.4 1923.8L1096.4 1923.4L1099.4 1923.1L1102.4 1922.8L1105.4 1922.6L1108.4 1922.4L1111.4 1922.3L1114.4 1922.1L1117.4 1922L1120.4 1921.8L1123.4 1921.8L1126.4 1921.8L1129.4 1921.8L1132.4 1921.8L1135.4 1921.8L1138.4 1921.8L1141.4 1921.9L1144.4 1922.1L1147.4 1922.2L1150.4 1922.4L1153.4 1922.6L1156.4 1922.8L1159.4 1923L1162.4 1923.1L1165.4 1923.2L1168.4 1923.4L1171.4 1923.6L1174.4 1923.9L1177.4 1924.2L1180.4 1924.5L1183.4 1924.7L1186.4 1925L1189.4 1925.3L1192.4 1925.6L1195.4 1925.9L1198.4 1926.2L1201.4 1926.5L1204.4 1926.8L1207.4 1927.1L1210.4 1927.5L1213.4 1927.8L1216.4 1928.1L1219.4 1928.4L1222.4 1928.7L1225.4 1929L1228.4 1929.3L1231.4 1929.6L1234.4 1929.9L1237.4 1930.2L1240.4 1930.5L1243.4 1930.8L1246.4 1931.1L1249.4 1931.4L1252.4 1931.6L1255.4 1931.8L1258.4 1931.9L1261.4 1932L1264.4 1932.2L1267.4 1932.3L1270.4 1932.5L1273.4 1932.6L1276.4 1932.8L1279.4 1932.9L1282.4 1933L1285.4 1933.2L1288.4 1933.3L1291.4 1933.4L1294.4 1933.6L1297.4 1933.7L1300.4 1933.8L1303.4 1934L1306.4 1934.1L1309.4 1934.2L1312.4 1934.2L1315.4 1934.3L1318.4 1934.4L1321.4 1934.5L1324.4 1934.6L1327.4 1934.7L1330.4 1934.7L1333.4 1934.8L1336.4 1934.9L1339.4 1935L1342.4 1934.9L1345.4 1934.7L1348.4 1934.6L1351.4 1934.4L1354.4 1934.3L1357.4 1934.1L1360.4 1934L1363.4 1933.8L1366.4 1933.7L1369.4 1933.5L1372.4 1933.3L1375.4 1933.1L1378.4 1932.9L1381.4 1932.6L1384.4 1932.4L1387.4 1932.2L1390.4 1932L1393.4 1931.8L1396.4 1931.6L1399.4 1931.5L1402.4 1931.5L1405.4 1931.4L1408.4 1931.3L1411.4 1931.3L1414.4 1931.2L1417.4 1931.1L1420.4 1931.1L1423.4 1931L1426.4 1930.9L1429.4 1930.9L1432.4 1930.8L1435.4 1930.9L1438.4 1931L1441.4 1931.1L1444.4 1931.2L1447.4 1931.3L1450.4 1931.4L1453.4 1931.5L1456.4 1931.6L1459.4 1931.7L1462.4 1931.9L1465.4 1932L1468.4 1932L1471.4 1931.9L1474.4 1931.9L1477.4 1931.8L1480.4 1931.8L1483.4 1931.8L1486.4 1931.7L1489.4 1931.7L1492.4 1931.6L1495.4 1931.5L1498.4 1931.1L1501.4 1930.7L1504.4 1930.4L1507.4 1930L1510.4 1929.6L1513.4 1929.2L1516.4 1928.8L1519.4 1928.4L1522.4 1928.1L1525.4 1927.7L1528.4 1927.4L1531.4 1927.1L1534.4 1926.8L1537.4 1926.4L1540.4 1926.1L1543.4 1925.8L1546.4 1925.5L1549.4 1925.2L1552.4 1924.9L1555.4 1924.7L1558.4 1924.5L1561.4 1924.3L1564.4 1924L1567.4 1923.8L1570.4 1923.6L1573.4 1923.4L1576.4 1923.2L1579.4 1923L1582.4 1922.9L1585.4 1922.8L1588.4 1922.8L1591.4 1922.7L1594.4 1922.6L1597.4 1922.5L1600.4 1922.5L1603.4 1922.4L1606.4 1922.3L1609.4 1922.4L1612.4 1922.4L1615.4 1922.5L1618.4 1922.6L1621.4 1922.7L1624.4 1922.7L1627.4 1922.8L1630.4 1922.9L1633.4 1923L1636.4 1923.1L1639.4 1923.3L1642.4 1923.5L1645.4 1923.7L1648.4 1923.9L1651.4 1924.2L1654.4 1924.4L1657.4 1924.6L1660.4 1924.8L1663.4 1925L1666.4 1925.2L1669.4 1925.4L1672.4 1925.6L1675.4 1925.9L1678.4 1926.1L1681.4 1926.3L1684.4 1926.5L1687.4 1926.7L1690.4 1926.9L1693.4 1927.1L1696.4 1927.3L1699.4 1927.6L1702.4 1927.8L1705.4 1928L1708.4 1928.1L1711.4 1928.1L1714.4 1928.2L1717.4 1928.2L1720.4 1928.3L1723.4 1928.3L1726.4 1928.4L1729.4 1928.5L1732.4 1928.5L1735.4 1928.6L1738.4 1928.6L1741.4 1928.7L1744.4 1928.7L1747.4 1928.8L1750.4 1928.8L1753.4 1928.7L1756.4 1928.7L1759.4 1928.7L1762.4 1928.6L1765.4 1928.6L1768.4 1928.6L1771.4 1928.5L1774.4 1928.5L1777.4 1928.5L1780.4 1928.4L1783.4 1928.3L1786.4 1928.2L1789.4 1928.1L1792.4 1928L1795.4 1927.9L1798.4 1927.8L1801.4 1927.7L1804.4 1927.6L1807.4 1927.5L1810 1927.5" stroke="#00b050" stroke-width="6"/>
<path d="M328.5 2121L329.5 2124L330.5 2126.1L331.5 2126.2L332.5 2124.2L333.5 2120.6L334.5 2116.8L335.5 2114.2L336.5 2113.9L337.5 2116.2L338.5 2120.2L339.5 2124.5L340.5 2127.2L341.5 2127.1L342.5 2124.3L343.5 2119.8L344.5 2115.3L345.5 2112.5L346.5 2112.4L347.5 2115L348.5 2119.4L349.5 2123.8L350.5 2126.5L351.5 2126.4L352.5 2123.6L353.5 2119L354.5 2114.4L355.5 2111.6L356.5 2111.5L357.5 2114.2L358.5 2118.7L359.5 2123.3L360.5 2126.2L361.5 2126.3L362.5 2123.5L363.5 2119L364.5 2114.5L365.5 2111.7L366.5 2111.7L367.5 2114.6L368.5 2119.2L369.5 2123.9L370.5 2126.8L371.5 2126.8L372.5 2124.1L373.5 2119.5L374.5 2114.9L375.5 2112.1L376.5 2112.2L377.5 2115.2L378.5 2120L379.5 2124.8L380.5 2127.8L381.5 2128L382.5 2125.3L383.5 2120.7L384.5 2116.2L385.5 2113.3L386.5 2113.2L387.5 2116.2L388.5 2121.5L389.5 2127.2L390.5 2131L391.5 2131.4L392.5 2128.1L393.5 2122.3L394.5 2116.1L395.5 2112L396.5 2111.9L397.5 2116.1L398.5 2123.2L399.5 2130.6L400.5 2135.4L401.5 2135.6L402.5 2131.3L403.5 2124.1L404.5 2116.9L405.5 2112.5L406.5 2112.7L407.5 2117.5L408.5 2125L409.5 2132.6L410.5 2137.4L411.5 2137.6L412.5 2133.2L413.5 2125.9L414.5 2118.6L415.5 2114.1L416.5 2114.1L417.5 2118.8L418.5 2126.3L419.5 2133.7L420.5 2138.4L421.5 2138.4L422.5 2133.9L423.5 2126.5L424.5 2119.1L425.5 2114.6L426.5 2114.6L427.5 2119.3L428.5 2126.8L429.5 2134.3L430.5 2139L431.5 2139L432.5 2134.5L433.5 2127.1L434.5 2119.6L435.5 2115L436.5 2115.1L437.5 2119.8L438.5 2127.3L439.5 2134.9L440.5 2139.6L441.5 2139.7L442.5 2135.1L443.5 2127.6L444.5 2120.1L445.5 2115.5L446.5 2115.6L447.5 2120.3L448.5 2127.9L449.5 2135.5L450.5 2140.3L451.5 2140.7L452.5 2136.6L453.5 2129.7L454.5 2122.7L455.5 2118.7L456.5 2119.4L457.5 2124.7L458.5 2133L459.5 2141.2L460.5 2146.6L461.5 2147.2L462.5 2143.2L463.5 2136.3L464.5 2129.3L465.5 2125.2L466.5 2125.9L467.5 2131.3L468.5 2139.6L469.5 2147.9L470.5 2153.2L471.5 2153.9L472.5 2149.8L473.5 2142.7L474.5 2135.4L475.5 2130.9L476.5 2131L477.5 2135.9L478.5 2143.6L479.5 2151.4L480.5 2156.3L481.5 2156.4L482.5 2151.8L483.5 2144.3L484.5 2136.8L485.5 2132.2L486.5 2132.3L487.5 2137.2L488.5 2144.9L489.5 2152.6L490.5 2157.3L491.5 2157.2L492.5 2152.4L493.5 2144.7L494.5 2137.1L495.5 2132.3L496.5 2132.2L497.5 2136.9L498.5 2144.5L499.5 2152.1L500.5 2156.7L501.5 2156.7L502.5 2151.9L503.5 2144.2L504.5 2136.5L505.5 2131.7L506.5 2131.7L507.5 2136.4L508.5 2144L509.5 2151.6L510.5 2156.4L511.5 2156.4L512.5 2151.6L513.5 2144L514.5 2136.4L515.5 2131.6L516.5 2131.6L517.5 2136.4L518.5 2144L519.5 2151.6L520.5 2156.4L521.5 2156.4L522.5 2151.6L523.5 2144L524.5 2136.4L525.5 2131.6L526.5 2131.6L527.5 2136.4L528.5 2144L529.5 2151.6L530.5 2156.4L531.5 2156.4L532.5 2151.6L533.5 2144L534.5 2136.4L535.5 2131.6L536.5 2131.6L537.5 2136.4L538.5 2144L539.5 2151.6L540.5 2156.4L541.5 2156.4L542.5 2151.6L543.5 2144L544.5 2136.4L545.5 2131.7L546.5 2131.7L547.5 2136.5L548.5 2144.2L549.5 2151.9L550.5 2156.7L551.5 2156.7L552.5 2152L553.5 2144.5L554.5 2136.9L555.5 2132.2L556.5 2132.3L557.5 2137L558.5 2144.7L559.5 2152.4L560.5 2157.2L561.5 2157.2L562.5 2152.6L563.5 2144.9L564.5 2137.2L565.5 2132.3L566.5 2132.1L567.5 2136.7L568.5 2144.1L569.5 2151.6L570.5 2156.1L571.5 2155.9L572.5 2151L573.5 2143.2L574.5 2135.3L575.5 2130.4L576.5 2130.3L577.5 2134.8L578.5 2142.2L579.5 2149.7L580.5 2154.2L581.5 2154L582.5 2149.2L583.5 2141.5L584.5 2133.8L585.5 2129.1L586.5 2129.1L587.5 2133.8L588.5 2141.4L589.5 2149L590.5 2153.8L591.5 2153.7L592.5 2149L593.5 2141.4L594.5 2133.7L595.5 2129L596.5 2128.9L597.5 2133.7L598.5 2141.3L599.5 2148.9L600.5 2153.6L601.5 2153.6L602.5 2148.9L603.5 2141.2L604.5 2133.6L605.5 2128.8L606.5 2128.8L607.5 2133.5L608.5 2141.2L609.5 2148.8L610.5 2153.5L611.5 2153.5L612.5 2148.7L613.5 2141.1L614.5 2133.4L615.5 2128.7L616.5 2128.7L617.5 2133.4L618.5 2141L619.5 2148.7L620.5 2153.4L621.5 2153.4L622.5 2148.6L623.5 2141L624.5 2133.4L625.5 2128.6L626.5 2128.6L627.5 2133.4L628.5 2141L629.5 2148.6L630.5 2153.4L631.5 2153.4L632.5 2148.6L633.5 2141L634.5 2133.4L635.5 2128.6L636.5 2128.6L637.5 2133.4L638.5 2141L639.5 2148.6L640.5 2153.4L641.5 2153.4L642.5 2148.7L643.5 2141.1L644.5 2133.5L645.5 2128.8L646.5 2128.8L647.5 2133.6L648.5 2141.2L649.5 2148.9L650.5 2153.7L651.5 2153.7L652.5 2149L653.5 2141.4L654.5 2133.8L655.5 2129.1L656.5 2129.1L657.5 2133.9L658.5 2141.5L659.5 2149.2L660.5 2153.9L661.5 2154L662.5 2149.3L663.5 2141.7L664.5 2134.1L665.5 2129.4L666.5 2129.4L667.5 2134.1L668.5 2141.8L669.5 2149.5L670.5 2154.2L671.5 2154.3L672.5 2149.6L673.5 2142L674.5 2134.3L675.5 2129.7L676.5 2129.7L677.5 2134.5L678.5 2142.1L679.5 2149.8L680.5 2154.6L681.5 2154.6L682.5 2150L683.5 2142.4L684.5 2134.8L685.5 2130.1L686.5 2130.1L687.5 2134.9L688.5 2142.6L689.5 2150.3L690.5 2155L691.5 2155.1L692.5 2150.4L693.5 2142.8L694.5 2135.1L695.5 2130.3L696.5 2130.2L697.5 2134.8L698.5 2142.3L699.5 2149.9L700.5 2154.5L701.5 2154.4L702.5 2149.6L703.5 2141.9L704.5 2134.1L705.5 2129.3L706.5 2129.2L707.5 2133.8L708.5 2141.4L709.5 2148.9L710.5 2153.6L711.5 2153.5L712.5 2148.6L713.5 2140.8L714.5 2132.9L715.5 2128L716.5 2127.8L717.5 2132.3L718.5 2139.7L719.5 2147.1L720.5 2151.6L721.5 2151.4L722.5 2146.5L723.5 2138.6L724.5 2130.8L725.5 2125.8L726.5 2125.6L727.5 2130.1L728.5 2137.5L729.5 2145L730.5 2149.5L731.5 2149.3L732.5 2144.5L733.5 2136.8L734.5 2129L735.5 2124.2L736.5 2124.1L737.5 2128.8L738.5 2136.3L739.5 2143.9L740.5 2148.5L741.5 2148.4L742.5 2143.6L743.5 2135.9L744.5 2128.2L745.5 2123.3L746.5 2123.2L747.5 2127.9L748.5 2135.4L749.5 2143L750.5 2147.5L751.5 2147.2L752.5 2142.2L753.5 2134.3L754.5 2126.3L755.5 2121.3L756.5 2121L757.5 2125.5L758.5 2132.8L759.5 2140.2L760.5 2144.6L761.5 2144.3L762.5 2139.2L763.5 2131.2L764.5 2123.1L765.5 2117.8L766.5 2117.3L767.5 2121.4L768.5 2128.4L769.5 2135.3L770.5 2139.3L771.5 2138.7L772.5 2133.5L773.5 2125.5L774.5 2117.4L775.5 2112.1L776.5 2111.3L777.5 2115.1L778.5 2121.7L779.5 2128.2L780.5 2132L781.5 2131.1L782.5 2125.8L783.5 2117.6L784.5 2109.4L785.5 2103.9L786.5 2102.9L787.5 2106.4L788.5 2112.6L789.5 2118.8L790.5 2122.2L791.5 2121.1L792.5 2115.7L793.5 2107.7L794.5 2099.7L795.5 2094.5L796.5 2093.8L797.5 2097.4L798.5 2103.7L799.5 2110L800.5 2113.6L801.5 2112.9L802.5 2107.7L803.5 2099.6L804.5 2091.3L805.5 2085.7L806.5 2084.6L807.5 2088.1L808.5 2094.4L809.5 2100.8L810.5 2104.4L811.5 2103.3L812.5 2097.3L813.5 2088.2L814.5 2079L815.5 2072.6L816.5 2070.9L817.5 2074L818.5 2080.1L819.5 2086.3L820.5 2089.5L821.5 2087.9L822.5 2081.3L823.5 2071.7L824.5 2061.9L825.5 2055.2L826.5 2053.4L827.5 2056.6L828.5 2063L829.5 2069.5L830.5 2073.1L831.5 2071.8L832.5 2064.9L833.5 2054.2L834.5 2042.8L835.5 2034.7L836.5 2032.4L837.5 2036.6L838.5 2045.2L839.5 2054.3L840.5 2059.4L841.5 2057.5L842.5 2048.2L843.5 2033.7L844.5 2018.7L845.5 2007.9L846.5 2005L847.5 2010.2L848.5 2020.4L849.5 2030.6L850.5 2035.8L851.5 2033L852.5 2022.1L853.5 2006L854.5 1989.5L855.5 1977.7L856.5 1974L857.5 1978.3L858.5 1987.5L859.5 1996.7L860.5 2000.7L861.5 1996.6L862.5 1984.2L863.5 1966.9L864.5 1949.6L865.5 1937.2L866.5 1932.6L867.5 1935.9L868.5 1944.1L869.5 1952.1L870.5 1954.5L871.5 1948.5L872.5 1934.2L873.5 1915.1L874.5 1896.1L875.5 1882.1L876.5 1875.7L877.5 1876.9L878.5 1882.7L879.5 1888.7L880.5 1890.1L881.5 1883.9L882.5 1869.9L883.5 1851.5L884.5 1833.6L885.5 1821.2L886.5 1817L887.5 1821L888.5 1829.7L889.5 1838.3L890.5 1842L891.5 1838.4L892.5 1828.4L893.5 1814.9L894.5 1802.4L895.5 1794.3L896.5 1792.5L897.5 1796.3L898.5 1803L899.5 1809.1L900.5 1811.9L901.5 1810L902.5 1803.1L903.5 1793.1L904.5 1783.2L905.5 1776.4L906.5 1774.7L907.5 1777.9L908.5 1784.1L909.5 1790.6L910.5 1794.2L911.5 1793.2L912.5 1787.2L913.5 1778.3L914.5 1769.4L915.5 1763.6L916.5 1762.6L917.5 1766.5L918.5 1773.3L919.5 1780.2L920.5 1784.3L921.5 1783.6L922.5 1778.2L923.5 1769.9L924.5 1761.6L925.5 1756.3L926.5 1755.7L927.5 1759.7L928.5 1766.6L929.5 1773.4L930.5 1777.3L931.5 1776.5L932.5 1771.3L933.5 1763.2L934.5 1755.2L935.5 1750L936.5 1749.3L937.5 1753.2L938.5 1759.7L939.5 1766.2L940.5 1769.9L941.5 1769.1L942.5 1763.9L943.5 1756L944.5 1748.1L945.5 1767.2L946.5 1761.7L947.5 1754.1L948.5 1747.2L949.5 1743.5L950.5 1744.2L951.5 1748.1L952.5 1753.5L953.5 1758L954.5 1759.8L955.5 1757.6L956.5 1751.9L957.5 1744.6L958.5 1738.4L959.5 1735.4L960.5 1737L961.5 1742.8L962.5 1749.8L963.5 1754.2L964.5 1754L965.5 1750.5L966.5 1744.8L967.5 1738.4L968.5 1732.8L969.5 1729.6L970.5 1730.4L971.5 1738.5L972.5 1747.9L973.5 1750.8L974.5 1748.6L975.5 1743.7L976.5 1737.5L977.5 1731.5L978.5 1727.3L979.5 1726L980.5 1731.1L981.5 1742.4L982.5 1754.9L983.5 1762.9L984.5 1763.5L985.5 1759.4L986.5 1752.7L987.5 1745.8L988.5 1741.1L989.5 1740.4L990.5 1747.7L991.5 1761.1L992.5 1774.8L993.5 1782.9L994.5 1782.5L995.5 1776L996.5 1766.4L997.5 1757.8L998.5 1754L999.5 1757.6L1000.5 1768.3L1001.5 1781.5L1002.5 1791.7L1003.5 1794.4L1004.5 1791.4L1005.5 1784.6L1006.5 1775.7L1007.5 1766.7L1008.5 1759.7L1009.5 1756.2L1010.5 1759.5L1011.5 1775L1012.5 1796.4L1013.5 1814.5L1014.5 1821.6L1015.5 1816.6L1016.5 1803.8L1017.5 1788.6L1018.5 1777.7L1019.5 1775.5L1020.5 1781.1L1021.5 1792.3L1022.5 1806.8L1023.5 1821.4L1024.5 1832.6L1025.5 1838.2L1026.5 1836.1L1027.5 1825.7L1028.5 1811.4L1029.5 1799.7L1030.5 1795.8L1031.5 1800.3L1032.5 1811L1033.5 1824.5L1034.5 1836.8L1035.5 1844L1036.5 1844.6L1037.5 1841.2L1038.5 1835.5L1039.5 1829.2L1040.5 1824.1L1041.5 1821.7L1042.5 1823.1L1043.5 1828.6L1044.5 1837L1045.5 1846.5L1046.5 1854.7L1047.5 1859.9L1048.5 1860.9L1049.5 1859.3L1050.5 1856.6L1051.5 1854L1052.5 1853L1053.5 1853.7L1054.5 1855.7L1055.5 1858.8L1056.5 1862.7L1057.5 1867.1L1058.5 1871.6L1059.5 1875.7L1060.5 1879.1L1061.5 1881.5L1062.5 1882.5L1063.5 1881.8L1064.5 1878.4L1065.5 1874.6L1066.5 1873L1067.5 1874.2L1068.5 1874.1L1069.5 1875.1L1070.5 1876.3L1071.5 1876.5L1072.5 1875.7L1073.5 1874.5L1074.5 1874L1075.5 1874.9L1076.5 1876.2L1077.5 1876.9L1078.5 1876.5L1079.5 1875.5L1080.5 1874.7L1081.5 1874.9L1082.5 1875.9L1083.5 1876.8L1084.5 1876.7L1085.5 1875.4L1086.5 1873.8L1087.5 1872.8L1088.5 1873L1089.5 1873.9L1090.5 1874.1L1091.5 1873.2L1092.5 1871.4L1093.5 1870.1L1094.5 1870L1095.5 1870.8L1096.5 1871.5L1097.5 1871.4L1098.5 1870.2L1099.5 1868.9L1100.5 1868.2L1101.5 1868.5L1102.5 1869.4L1103.5 1869.8L1104.5 1869.1L1105.5 1867.6L1106.5 1866.3L1107.5 1866.2L1108.5 1867L1109.5 1867.9L1110.5 1867.6L1111.5 1866.3L1112.5 1864.7L1113.5 1864L1114.5 1864.3L1115.5 1865.1L1116.5 1865.3L1117.5 1864.6L1118.5 1863.1L1119.5 1861.9L1120.5 1861.6L1121.5 1862.5L1122.5 1863.5L1123.5 1863.7L1124.5 1862.6L1125.5 1861.1L1126.5 1860.6L1127.5 1861.3L1128.5 1862.5L1129.5 1863.1L1130.5 1862.5L1131.5 1861.3L1132.5 1860.5L1133.5 1860.8L1134.5 1862.1L1135.5 1863.5L1136.5 1864L1137.5 1863.4L1138.5 1862.4L1139.5 1862.2L1140.5 1863.3L1141.5 1865L1142.5 1866.1L1143.5 1866L1144.5 1865.1L1145.5 1864.6L1146.5 1865.3L1147.5 1867L1148.5 1868.5L1149.5 1869.2L1150.5 1868.8L1151.5 1868.2L1152.5 1868.3L1153.5 1869.5L1154.5 1871.3L1155.5 1872.6L1156.5 1872.6L1157.5 1871.8L1158.5 1871.3L1159.5 1872L1160.5 1873.8L1161.5 1875.6L1162.5 1876.3L1163.5 1875.9L1164.5 1875.2L1165.5 1875.4L1166.5 1876.6L1167.5 1878.4L1168.5 1879.6L1169.5 1879.8L1170.5 1879.2L1171.5 1878.8L1172.5 1879.4L1173.5 1881.2L1174.5 1883L1175.5 1883.6L1176.5 1882.9L1177.5 1881.7L1178.5 1881.6L1179.5 1882.7L1180.5 1884.3L1181.5 1885.3L1182.5 1885.1L1183.5 1884.3L1184.5 1883.7L1185.5 1884.1L1186.5 1885.5L1187.5 1886.9L1188.5 1887.4L1189.5 1886.7L1190.5 1885.6L1191.5 1885.1L1192.5 1886L1193.5 1887.4L1194.5 1888.2L1195.5 1887.6L1196.5 1886.2L1197.5 1885.2L1198.5 1885.3L1199.5 1886.4L1200.5 1887.5L1201.5 1887.6L1202.5 1886.6L1203.5 1885.4L1204.5 1884.8L1205.5 1885.5L1206.5 1886.9L1207.5 1887.7L1208.5 1887.1L1209.5 1885.6L1210.5 1884.3L1211.5 1884.3L1212.5 1885.5L1213.5 1886.5L1214.5 1886.4L1215.5 1885.2L1216.5 1883.7L1217.5 1883.1L1218.5 1883.6L1219.5 1884.6L1220.5 1885.1L1221.5 1884.5L1222.5 1883L1223.5 1881.7L1224.5 1881.6L1225.5 1882.7L1226.5 1883.8L1227.5 1883.8L1228.5 1882.5L1229.5 1880.9L1230.5 1880.3L1231.5 1881L1232.5 1882.3L1233.5 1882.9L1234.5 1882.4L1235.5 1881L1236.5 1880L1237.5 1880L1238.5 1881.1L1239.5 1882.2L1240.5 1882.4L1241.5 1881.2L1242.5 1879.6L1243.5 1878.9L1244.5 1879.7L1245.5 1881.2L1246.5 1882L1247.5 1881.3L1248.5 1879.8L1249.5 1878.7L1250.5 1878.9L1251.5 1880.1L1252.5 1881.3L1253.5 1881.6L1254.5 1880.7L1255.5 1879.4L1256.5 1878.9L1257.5 1879.8L1258.5 1881.4L1259.5 1882.4L1260.5 1881.9L1261.5 1880.4L1262.5 1879.3L1263.5 1879.6L1264.5 1881.1L1265.5 1882.4L1266.5 1882.6L1267.5 1881.6L1268.5 1880.4L1269.5 1880.1L1270.5 1880.9L1271.5 1882.3L1272.5 1883.2L1273.5 1882.8L1274.5 1881.4L1275.5 1880.3L1276.5 1880.5L1277.5 1882L1278.5 1883.6L1279.5 1883.8L1280.5 1882.7L1281.5 1881.3L1282.5 1880.9L1283.5 1881.8L1284.5 1883.2L1285.5 1884L1286.5 1883.6L1287.5 1882.4L1288.5 1881.5L1289.5 1881.7L1290.5 1883L1291.5 1884.4L1292.5 1884.8L1293.5 1883.6L1294.5 1882.1L1295.5 1881.6L1296.5 1882.6L1297.5 1884.3L1298.5 1885.2L1299.5 1884.7L1300.5 1883.4L1301.5 1882.4L1302.5 1882.7L1303.5 1884L1304.5 1885.2L1305.5 1885.5L1306.5 1884.5L1307.5 1883.1L1308.5 1882.6L1309.5 1883.5L1310.5 1885.3L1311.5 1886.3L1312.5 1885.8L1313.5 1884.2L1314.5 1883L1315.5 1883.3L1316.5 1884.8L1317.5 1886.2L1318.5 1886.4L1319.5 1885.3L1320.5 1884L1321.5 1883.5L1322.5 1884.4L1323.5 1886L1324.5 1887L1325.5 1886.6L1326.5 1885L1327.5 1883.6L1328.5 1883.9L1329.5 1885.6L1330.5 1887.3L1331.5 1887.5L1332.5 1886.1L1333.5 1884.5L1334.5 1884L1335.5 1884.9L1336.5 1886.5L1337.5 1887.4L1338.5 1886.8L1339.5 1885.3L1340.5 1884.1L1341.5 1884.2L1342.5 1885.7L1343.5 1887.4L1344.5 1887.7L1345.5 1886.3L1346.5 1884.4L1347.5 1883.7L1348.5 1884.8L1349.5 1886.7L1350.5 1887.6L1351.5 1887L1352.5 1885.4L1353.5 1884.2L1354.5 1884.4L1355.5 1885.8L1356.5 1887.3L1357.5 1887.6L1358.5 1886.3L1359.5 1884.4L1360.5 1883.6L1361.5 1884.7L1362.5 1886.7L1363.5 1887.8L1364.5 1887L1365.5 1885L1366.5 1883.5L1367.5 1883.7L1368.5 1885.3L1369.5 1886.8L1370.5 1886.9L1371.5 1885.6L1372.5 1883.9L1373.5 1883.2L1374.5 1884.1L1375.5 1885.9L1376.5 1887L1377.5 1886.3L1378.5 1884.2L1379.5 1882.5L1380.5 1882.7L1381.5 1884.6L1382.5 1886.4L1383.5 1886.5L1384.5 1884.9L1385.5 1883.1L1386.5 1882.4L1387.5 1883.4L1388.5 1885.1L1389.5 1886.1L1390.5 1885.4L1391.5 1883.6L1392.5 1882L1393.5 1882.1L1394.5 1883.9L1395.5 1885.8L1396.5 1886L1397.5 1884.2L1398.5 1881.9L1399.5 1881L1400.5 1882.1L1401.5 1884.1L1402.5 1885L1403.5 1884.1L1404.5 1882.2L1405.5 1880.6L1406.5 1880.7L1407.5 1882.2L1408.5 1883.9L1409.5 1884.1L1410.5 1882.4L1411.5 1880.1L1412.5 1879.1L1413.5 1880.2L1414.5 1882.5L1415.5 1883.7L1416.5 1882.6L1417.5 1880.3L1418.5 1878.6L1419.5 1878.8L1420.5 1880.5L1421.5 1882.1L1422.5 1882.2L1423.5 1880.6L1424.5 1878.5L1425.5 1877.6L1426.5 1878.6L1427.5 1880.8L1428.5 1882.1L1429.5 1881.2L1430.5 1878.7L1431.5 1876.7L1432.5 1876.9L1433.5 1879L1434.5 1880.9L1435.5 1881L1436.5 1879.2L1437.5 1877.1L1438.5 1876.3L1439.5 1877.4L1440.5 1879.3L1441.5 1880.4L1442.5 1879.6L1443.5 1877.4L1444.5 1875.4L1445.5 1875.5L1446.5 1877.6L1447.5 1879.8L1448.5 1880L1449.5 1878L1450.5 1875.4L1451.5 1874.6L1452.5 1875.9L1453.5 1878.1L1454.5 1879.4L1455.5 1878.6L1456.5 1876.6L1457.5 1875L1458.5 1875.3L1459.5 1877.2L1460.5 1879.4L1461.5 1879.8L1462.5 1878L1463.5 1875.5L1464.5 1874.6L1465.5 1876.1L1466.5 1878.8L1467.5 1880.3L1468.5 1879.3L1469.5 1877L1470.5 1875.4L1471.5 1875.7L1472.5 1877.7L1473.5 1879.7L1474.5 1880L1475.5 1878.4L1476.5 1876.2L1477.5 1875.3L1478.5 1876.6L1479.5 1879.3L1480.5 1880.9L1481.5 1880L1482.5 1877.4L1483.5 1875.5L1484.5 1875.9L1485.5 1878.3L1486.5 1880.5L1487.5 1880.7L1488.5 1879L1489.5 1876.9L1490.5 1876.2L1491.5 1877.5L1492.5 1879.8L1493.5 1881.3L1494.5 1880.6L1495.5 1878.2L1496.5 1876.2L1497.5 1876.5L1498.5 1879L1499.5 1881.6L1500.5 1881.9L1501.5 1879.9L1502.5 1877.4L1503.5 1876.6L1504.5 1878.2L1505.5 1880.6L1506.5 1881.9L1507.5 1881.2L1508.5 1879L1509.5 1877.1L1510.5 1877.2L1511.5 1879.3L1512.5 1881.6L1513.5 1882L1514.5 1879.8L1515.5 1876.9L1516.5 1875.8L1517.5 1877.4L1518.5 1880.1L1519.5 1881.4L1520.5 1880.3L1521.5 1877.8L1522.5 1875.9L1523.5 1876.2L1524.5 1878.1L1525.5 1880.2L1526.5 1880.4L1527.5 1878.5L1528.5 1875.9L1529.5 1874.7L1530.5 1876.2L1531.5 1879L1532.5 1880.6L1533.5 1879.4L1534.5 1876.5L1535.5 1874.3L1536.5 1874.6L1537.5 1876.8L1538.5 1878.8L1539.5 1878.7L1540.5 1876.5L1541.5 1873.9L1542.5 1872.6L1543.5 1873.7L1544.5 1875.9L1545.5 1877.2L1546.5 1876L1547.5 1872.9L1548.5 1870.3L1549.5 1870.3L1550.5 1872.7L1551.5 1875L1552.5 1875L1553.5 1872.5L1554.5 1869.5L1555.5 1868.3L1556.5 1869.5L1557.5 1871.6L1558.5 1872.6L1559.5 1871.4L1560.5 1868.6L1561.5 1866.2L1562.5 1866.1L1563.5 1868.2L1564.5 1870.5L1565.5 1870.6L1566.5 1868L1567.5 1864.6L1568.5 1863.2L1569.5 1864.6L1570.5 1867.2L1571.5 1868.3L1572.5 1866.9L1573.5 1864L1574.5 1861.8L1575.5 1861.9L1576.5 1863.8L1577.5 1865.9L1578.5 1866L1579.5 1863.7L1580.5 1860.5L1581.5 1859L1582.5 1860.5L1583.5 1863.4L1584.5 1864.9L1585.5 1863.4L1586.5 1860.1L1587.5 1857.7L1588.5 1857.8L1589.5 1860L1590.5 1862L1591.5 1862L1592.5 1859.8L1593.5 1857.1L1594.5 1855.8L1595.5 1857.1L1596.5 1859.9L1597.5 1861.5L1598.5 1860.3L1599.5 1857L1600.5 1854.4L1601.5 1854.6L1602.5 1857.3L1603.5 1859.9L1604.5 1859.9L1605.5 1857.5L1606.5 1854.7L1607.5 1853.6L1608.5 1855L1609.5 1857.4L1610.5 1858.8L1611.5 1857.8L1612.5 1855.1L1613.5 1852.8L1614.5 1853L1615.5 1855.6L1616.5 1858.4L1617.5 1858.7L1618.5 1856.2L1619.5 1853.1L1620.5 1852L1621.5 1853.7L1622.5 1856.5L1623.5 1858L1624.5 1856.9L1625.5 1854.2L1626.5 1852.2L1627.5 1852.5L1628.5 1854.9L1629.5 1857.5L1630.5 1858L1631.5 1855.8L1632.5 1852.8L1633.5 1851.7L1634.5 1853.6L1635.5 1856.9L1636.5 1858.7L1637.5 1857.6L1638.5 1854.7L1639.5 1852.6L1640.5 1853.1L1641.5 1855.6L1642.5 1858L1643.5 1858.3L1644.5 1856.4L1645.5 1853.9L1646.5 1852.8L1647.5 1854.4L1648.5 1857.5L1649.5 1859.4L1650.5 1858.4L1651.5 1855.4L1652.5 1853.1L1653.5 1853.6L1654.5 1856.5L1655.5 1859.2L1656.5 1859.5L1657.5 1857.4L1658.5 1854.9L1659.5 1854.1L1660.5 1855.7L1661.5 1858.4L1662.5 1860.1L1663.5 1859.3L1664.5 1856.6L1665.5 1854.4L1666.5 1854.7L1667.5 1857.6L1668.5 1860.6L1669.5 1861L1670.5 1858.7L1671.5 1855.8L1672.5 1854.9L1673.5 1856.7L1674.5 1859.6L1675.5 1861.2L1676.5 1860.3L1677.5 1857.8L1678.5 1855.9L1679.5 1856.2L1680.5 1858.7L1681.5 1861.4L1682.5 1862L1683.5 1859.7L1684.5 1856.7L1685.5 1855.6L1686.5 1857.5L1687.5 1860.8L1688.5 1862.6L1689.5 1861.5L1690.5 1858.7L1691.5 1856.8L1692.5 1857.2L1693.5 1859.6L1694.5 1862L1695.5 1862.5L1696.5 1860.6L1697.5 1857.9L1698.5 1856.8L1699.5 1858.5L1700.5 1861.7L1701.5 1863.7L1702.5 1862.6L1703.5 1859.5L1704.5 1857.2L1705.5 1857.8L1706.5 1860.5L1707.5 1863.1L1708.5 1863.4L1709.5 1861.4L1710.5 1858.9L1711.5 1858L1712.5 1859.5L1713.5 1862.3L1714.5 1864L1715.5 1863.1L1716.5 1860.3L1717.5 1857.9L1718.5 1858.3L1719.5 1861.2L1720.5 1864.2L1721.5 1864.5L1722.5 1862.2L1723.5 1859.4L1724.5 1858.5L1725.5 1860.2L1726.5 1862.9L1727.5 1864.5L1728.5 1863.6L1729.5 1861.1L1730.5 1859.1L1731.5 1859.4L1732.5 1861.9L1733.5 1864.7L1734.5 1865.2L1735.5 1862.9L1736.5 1859.8L1737.5 1858.7L1738.5 1860.6L1739.5 1863.7L1740.5 1865.4L1741.5 1864.3L1742.5 1861.6L1743.5 1859.7L1744.5 1860.1L1745.5 1862.4L1746.5 1864.8L1747.5 1865.3L1748.5 1863.3L1749.5 1860.4L1750.5 1859.3L1751.5 1861L1752.5 1864.3L1753.5 1866.2L1754.5 1865L1755.5 1862L1756.5 1859.7L1757.5 1860.2L1758.5 1862.9L1759.5 1865.3L1760.5 1865.6L1761.5 1863.7L1762.5 1861.2L1763.5 1860.3L1764.5 1861.8L1765.5 1864.7L1766.5 1866.5L1767.5 1865.6L1768.5 1862.6L1769.5 1860.3L1770.5 1860.7L1771.5 1863.7L1772.5 1866.5L1773.5 1866.9L1774.5 1864.6L1775.5 1862L1776.5 1861.1L1777.5 1862.8L1778.5 1865.5L1779.5 1867L1780.5 1866.2L1781.5 1863.7L1782.5 1861.6L1783.5 1861.9L1784.5 1864.6L1785.5 1867.5L1786.5 1868L1787.5 1865.7L1788.5 1862.6L1789.5 1861.6L1790.5 1863.6L1791.5 1866.8L1792.5 1868.6L1793.5 1867.8L1794.5 1865.4L1795.5 1863.7L1796.5 1864.2L1797.5 1866.8L1798.5 1869.4L1799.5 1870.1L1800.5 1868.2L1801.5 1865.5L1802.5 1864.5L1803.5 1866.6L1804.5 1869.8L1805.5 1870.8L1806.5 1869.7L1807.5 1868.9L1810 1869" stroke="#000000" stroke-width="6"/>
</g>
<g class="legend-keys">
<rect x="577" y="1335.4" width="126" height="6" rx="2.5" fill="#ff0000"/>
<rect x="893" y="1335.4" width="122" height="6" rx="2.5" fill="#00b050"/>
<rect x="1274" y="1335.6" width="122" height="6" rx="2.5" fill="#000000"/>
</g>
<g class="labels" filter="url(#crisp)">
<text transform="matrix(0.7661 0 0 0.7733 188.75 1304.23)">60</text>
<text transform="matrix(0.7521 0 0 0.7733 190.1 1525.53)">40</text>
<text transform="matrix(0.7727 0 0 0.7733 188.12 1747.23)">20</text>
<text transform="matrix(0.7857 0 0 0.7733 226.16 1968.33)">0</text>
<text transform="matrix(0.7413 0 0 0.7733 163.51 2189.23)">-20</text>
<text transform="matrix(0.7413 0 0 0.7733 163.51 2410.33)">-40</text>
<text transform="matrix(0.7513 0 0 0.7676 272.19 2057.05)">0.0</text>
<text transform="matrix(0.7414 0 0 0.7676 456.63 2057.05)">0.4</text>
<text transform="matrix(0.747 0 0 0.7676 642.91 2057.05)">0.8</text>
<text transform="matrix(0.7321 0 0 0.7733 831.41 2057.04)">1.2</text>
<text transform="matrix(0.7257 0 0 0.7733 1016.27 2057.04)">1.6</text>
<text transform="matrix(0.7648 0 0 0.7676 1197.46 2057.05)">2.0</text>
<text transform="matrix(0.7496 0 0 0.7733 1383.83 2057.04)">2.4</text>
<text transform="matrix(0.7579 0 0 0.7676 1568.79 2057.05)">2.8</text>
<text transform="matrix(0.7712 0 0 0.7733 1754.64 2057.04)">3.2</text>
<text transform="matrix(0.7458 0 0 0.7645 713.05 1368.04)">head</text>
<text transform="matrix(0.7688 0 0 0.7688 0 1368.03)" x="1337.76 1412.03 1435.51 1489.88 1545.75 1568.59">middle</text>
<text transform="matrix(0.7364 0 0 0.8562 1410.23 1367.94)">rear</text>
<text transform="matrix(0.9219 0 0 0.8873 1674.45 1385.07)">(b)</text>
<text transform="matrix(0.7374 0 0 0.8015 1547.68 2167.6)"><tspan font-style="italic">time</tspan> / s</text>
<text transform="matrix(0 -0.7397 0.751 0 125.85 1983.12)">Lift force / kN</text>
</g>
</g>
</svg>
</body>
</html>
